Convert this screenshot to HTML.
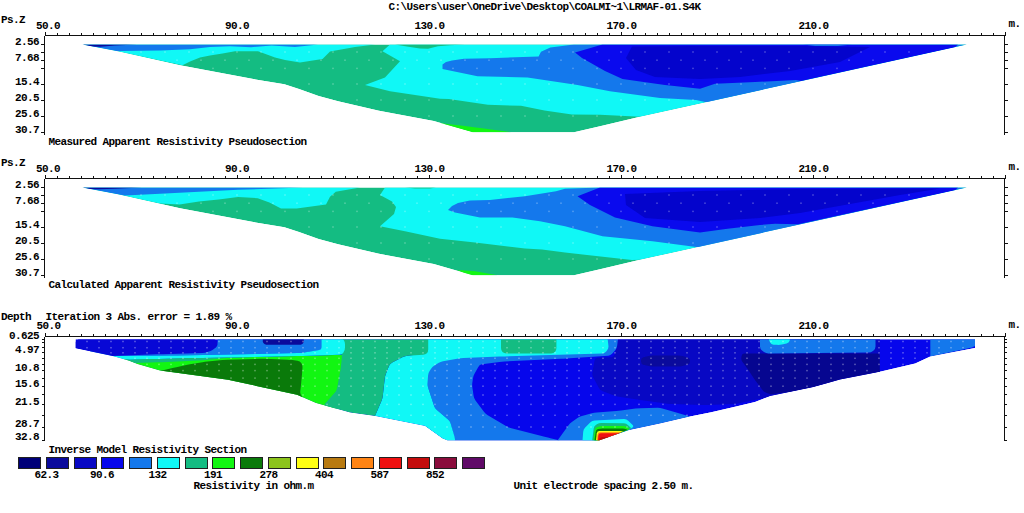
<!DOCTYPE html>
<html><head><meta charset="utf-8"><style>
html,body{margin:0;padding:0;background:#fff;overflow:hidden;}
svg{display:block;}
text{font-family:"Liberation Mono",monospace;font-weight:bold;font-size:11px;letter-spacing:-0.6px;fill:#000;}
</style></head><body>
<svg width="1024" height="513" viewBox="0 0 1024 513">
<rect width="1024" height="513" fill="#fff"/>
<g shape-rendering="geometricPrecision">
<clipPath id="c1"><polygon points="82.00,44.50 117.50,51.25 180.00,65.30 260.00,80.25 284.40,84.20 299.00,89.00 318.60,95.90 338.10,101.25 379.00,110.80 433.75,121.00 472.80,132.30 574.00,132.30 600.00,126.30 640.00,116.80 967.50,44.50"/></clipPath><clipPath id="c2"><polygon points="82.00,187.50 117.50,194.25 180.00,208.30 260.00,223.25 284.40,227.20 299.00,232.00 318.60,238.90 338.10,244.25 379.00,253.80 433.75,264.00 472.80,275.30 574.00,275.30 600.00,269.30 640.00,259.80 967.50,187.50"/></clipPath>
<g clip-path="url(#c1)">
<polygon points="82.00,44.50 117.50,51.25 180.00,65.30 260.00,80.25 284.40,84.20 299.00,89.00 318.60,95.90 338.10,101.25 379.00,110.80 433.75,121.00 472.80,132.30 574.00,132.30 600.00,126.30 640.00,116.80 967.50,44.50" fill="#14bc82"/>
<polygon points="82.00,44.50 375.00,44.50 355.00,47.00 330.00,51.40 322.50,58.90 316.00,60.00 300.00,62.50 285.00,60.00 275.00,57.50 258.00,51.25 235.00,51.25 222.50,53.50 210.00,55.50 200.00,57.50 190.00,61.50 182.50,65.20 117.50,51.25" fill="#10f8f6"/>
<polygon points="390.00,44.50 382.50,51.25 400.00,61.25 385.00,77.50 365.00,85.00 390.00,91.25 440.00,98.75 448.80,99.00 487.90,104.80 521.00,105.80 544.50,110.60 571.90,114.60 600.00,114.80 640.00,116.80 967.50,44.50" fill="#10f8f6"/>
<polygon points="395.00,44.50 410.00,47.00 420.00,48.60 428.00,48.70 438.00,46.20 450.00,45.20 465.00,44.50" fill="#14bc82"/>
<polygon points="82.00,44.50 318.00,44.50 295.00,47.00 271.60,45.60 251.00,47.20 230.00,46.30 210.00,47.00 190.00,49.20 160.00,50.50 120.00,51.00 117.50,51.25" fill="#1478ec"/>
<polygon points="82.00,44.50 137.00,44.50 115.00,45.60 100.00,46.80 92.00,46.60" fill="#0a0a9c"/>
<polygon points="442.50,64.50 446.00,62.00 452.00,60.50 464.00,58.80 490.00,58.20 503.40,57.80 538.60,56.40 541.00,51.70 550.30,47.60 568.00,45.30 574.00,44.50 967.50,44.50 707.50,102.40 696.00,100.00 660.00,98.00 610.00,91.25 577.50,85.00 527.50,77.50 477.50,76.25 442.50,69.00" fill="#1478ec"/>
<polygon points="602.50,44.50 575.00,52.50 582.00,58.00 590.00,62.50 605.00,71.00 622.50,79.00 665.00,85.00 700.00,88.75 715.00,83.75 755.00,82.00 796.00,80.00 801.00,81.00 955.00,47.30 958.00,44.50" fill="#0a0aee"/>
<polygon points="632.00,46.50 700.00,46.00 800.00,46.00 870.00,47.00 840.00,62.00 790.00,71.00 740.00,77.00 700.00,79.00 655.00,77.00 636.00,70.00 626.00,58.00" fill="#0404cc"/>
<polygon points="803.00,44.50 852.00,44.50 838.00,45.90 815.00,45.90" fill="#1478ec"/>
<polygon points="435.00,122.60 458.60,125.30 482.00,128.20 511.30,132.30 472.00,132.30" fill="#12f612"/>
</g><g clip-path="url(#c2)">
<polygon points="82.00,187.50 117.50,194.25 180.00,208.30 260.00,223.25 284.40,227.20 299.00,232.00 318.60,238.90 338.10,244.25 379.00,253.80 433.75,264.00 472.80,275.30 574.00,275.30 600.00,269.30 640.00,259.80 967.50,187.50" fill="#14bc82"/>
<polygon points="82.00,187.50 360.00,187.50 335.80,191.80 330.00,196.70 326.00,204.50 296.70,208.40 281.00,208.40 269.40,202.50 257.70,198.20 238.00,197.00 218.60,199.60 199.00,201.60 179.50,204.50 160.00,203.60 117.50,194.25" fill="#10f8f6"/>
<polygon points="385.00,187.50 380.00,195.00 392.00,201.50 396.00,207.00 394.00,214.00 380.00,226.25 405.00,231.25 440.00,238.75 475.00,242.50 525.00,248.50 542.00,249.50 565.00,252.50 587.00,255.00 632.00,260.00 640.00,259.80 967.50,187.50" fill="#10f8f6"/>
<polygon points="405.00,187.50 415.00,188.60 430.00,188.60 436.00,187.50" fill="#14bc82"/>
<polygon points="82.00,187.50 303.00,187.50 238.00,189.80 199.00,191.80 160.00,193.70 125.00,195.50 117.50,194.25" fill="#1478ec"/>
<polygon points="82.00,187.50 142.00,187.50 115.00,188.80 98.00,189.30 90.00,189.00" fill="#0a0a9c"/>
<polygon points="448.00,210.00 452.00,206.00 458.00,203.00 470.00,200.60 490.00,200.00 525.00,196.25 556.00,191.25 565.00,188.75 600.00,187.50 967.50,187.50 700.00,247.50 652.50,241.25 602.50,236.25 565.00,226.25 540.00,221.25 512.50,217.50 480.00,217.50 455.00,212.50" fill="#1478ec"/>
<polygon points="600.00,187.50 577.50,196.25 590.00,205.00 615.00,217.50 652.50,226.25 700.00,232.50 727.50,228.75 760.00,225.00 775.00,223.75 798.00,224.20 955.00,190.30 958.00,187.50" fill="#0a0aee"/>
<polygon points="625.00,194.00 700.00,191.00 800.00,189.00 940.00,188.50 900.00,195.00 850.00,204.00 800.00,213.00 760.00,218.00 700.00,222.00 645.00,218.00 626.00,205.00" fill="#0404cc"/>
<polygon points="457.50,270.00 475.00,271.25 497.50,275.30 468.00,275.30" fill="#12f612"/>
</g>
<clipPath id="c3"><polygon points="75.50,339.20 975.00,339.20 975.00,348.00 930.30,356.50 915.20,363.40 881.00,371.60 840.00,379.40 812.80,387.20 789.40,391.90 770.00,396.00 755.00,402.00 735.00,406.70 711.25,412.20 690.00,416.50 660.00,423.40 628.40,430.30 599.00,440.60 447.50,440.60 442.50,438.50 425.00,426.00 375.00,416.00 350.00,412.60 316.10,403.00 297.00,394.80 228.00,379.75 160.00,370.40 137.50,364.00 128.75,360.40 112.50,356.00 75.50,348.30"/></clipPath>
<g clip-path="url(#c3)">
<polygon points="75.50,339.20 975.00,339.20 975.00,348.00 930.30,356.50 915.20,363.40 881.00,371.60 840.00,379.40 812.80,387.20 789.40,391.90 770.00,396.00 755.00,402.00 735.00,406.70 711.25,412.20 690.00,416.50 660.00,423.40 628.40,430.30 599.00,440.60 447.50,440.60 442.50,438.50 425.00,426.00 375.00,416.00 350.00,412.60 316.10,403.00 297.00,394.80 228.00,379.75 160.00,370.40 137.50,364.00 128.75,360.40 112.50,356.00 75.50,348.30" fill="#0606ec"/>
<path d="M597.50,357.87L611.50,357.13Q614.00,357.00 614.55,354.56L618.00,339.20Q618.00,339.20 618.00,339.20L880.00,339.20Q880.00,339.20 880.00,339.20L880.00,372.00Q880.00,372.00 880.00,372.00L764.00,398.00Q764.00,398.00 764.00,398.00L737.45,403.49Q735.00,404.00 732.50,404.08L707.50,404.92Q705.00,405.00 702.50,404.93L672.50,404.07Q670.00,404.00 667.52,403.67L642.48,400.33Q640.00,400.00 637.53,399.61L617.47,396.39Q615.00,396.00 612.68,395.07L602.32,390.93Q600.00,390.00 598.82,387.79L593.18,377.21Q592.00,375.00 592.43,372.54L594.57,360.46Q595.00,358.00 597.50,357.87Z" fill="#0808c4"/>
<path d="M643.41,357.33L647.59,356.17Q650.00,355.50 652.50,355.50L677.50,355.50Q680.00,355.50 682.43,356.11L687.57,357.39Q690.00,358.00 690.00,360.50L690.00,361.50Q690.00,364.00 687.57,364.61L682.43,365.89Q680.00,366.50 677.50,366.50L652.50,366.50Q650.00,366.50 647.59,365.83L643.41,364.67Q641.00,364.00 641.00,361.50L641.00,360.50Q641.00,358.00 643.41,357.33Z" fill="#0a0a9c"/>
<path d="M744.50,353.50L877.20,353.50Q879.70,353.50 879.70,356.00L879.70,371.80Q879.70,371.80 879.70,371.80L840.00,379.40Q840.00,379.40 840.00,379.40L812.80,387.20Q812.80,387.20 812.80,387.20L789.40,391.90Q789.40,391.90 789.40,391.90L770.60,394.20Q770.60,394.20 770.60,394.20L766.37,392.79Q764.00,392.00 762.50,390.00L756.50,382.00Q755.00,380.00 753.61,377.92L748.39,370.08Q747.00,368.00 745.50,366.00L742.50,362.00Q741.00,360.00 741.38,357.53L741.62,355.97Q742.00,353.50 744.50,353.50Z" fill="#060690"/>
<path d="M760.00,339.20L875.50,339.20Q875.50,339.20 875.50,339.20L875.50,346.50Q875.50,349.00 873.55,350.56L872.95,351.04Q871.00,352.60 868.50,352.62L768.50,353.48Q766.00,353.50 764.00,352.00L762.00,350.50Q760.00,349.00 760.00,346.50L760.00,339.20Q760.00,339.20 760.00,339.20Z" fill="#1478ec"/>
<path d="M768.75,339.20L790.00,339.20Q790.00,339.20 790.00,339.20L789.50,341.10Q789.00,343.00 786.55,343.52L781.95,344.48Q779.50,345.00 777.00,344.85L773.50,344.65Q771.00,344.50 770.02,342.20L768.75,339.20Q768.75,339.20 768.75,339.20Z" fill="#10f8f6"/>
<path d="M930.30,339.20L975.00,339.20Q975.00,339.20 975.00,339.20L975.00,346.00Q975.00,346.00 975.00,346.00L972.00,347.60Q972.00,347.60 972.00,347.60L930.30,356.50Q930.30,356.50 930.30,356.50L930.30,339.20Q930.30,339.20 930.30,339.20Z" fill="#1478ec"/>
<path d="M427.50,339.20L617.90,339.20Q617.90,339.20 617.90,339.20L617.17,345.81Q616.90,348.30 615.27,350.19L612.33,353.61Q610.70,355.50 608.21,355.66L566.09,358.44Q563.60,358.60 561.10,358.72L504.50,361.48Q502.00,361.60 499.52,361.94L481.98,364.36Q479.50,364.70 478.30,366.89L474.50,373.81Q473.30,376.00 472.94,378.47L472.36,382.53Q472.00,385.00 472.37,387.47L473.63,396.03Q474.00,398.50 475.50,400.50L484.10,412.00Q485.60,414.00 487.76,415.26L506.84,426.44Q509.00,427.70 511.42,428.31L545.58,436.89Q548.00,437.50 550.42,438.13L560.00,440.60Q560.00,440.60 560.00,440.60L455.00,440.60Q455.00,440.60 455.00,440.60L450.62,423.42Q450.00,421.00 448.08,419.40L436.92,410.10Q435.00,408.50 434.21,406.13L428.29,388.37Q427.50,386.00 427.50,383.50L427.50,339.20Q427.50,339.20 427.50,339.20Z" fill="#1478ec"/>
<path d="M427.50,339.20L607.70,339.20Q607.70,339.20 607.70,339.20L608.43,345.81Q608.70,348.30 607.13,350.25L606.17,351.45Q604.60,353.40 602.10,353.48L504.50,356.42Q502.00,356.50 499.50,356.60L463.50,358.10Q461.00,358.20 458.53,358.61L442.97,361.19Q440.50,361.60 438.39,362.94L434.41,365.46Q432.30,366.80 430.92,368.89L429.58,370.91Q428.20,373.00 428.07,375.50L427.63,383.50Q427.50,386.00 428.29,388.37L434.21,406.13Q435.00,408.50 436.92,410.10L448.08,419.40Q450.00,421.00 450.69,423.40L454.31,436.10Q455.00,438.50 455.00,439.55L455.00,440.60Q455.00,440.60 455.00,440.60L447.50,440.60Q447.50,440.60 447.50,440.60L442.50,438.50Q442.50,438.50 442.50,438.50L425.00,426.00Q425.00,426.00 425.00,426.00L375.00,416.00Q375.00,416.00 375.00,416.00L381.52,400.80Q382.50,398.50 382.78,396.02L384.72,378.48Q385.00,376.00 385.93,373.68L389.07,365.82Q390.00,363.50 392.24,362.38L402.76,357.12Q405.00,356.00 407.48,355.69L422.52,353.81Q425.00,353.50 425.43,351.04L427.50,339.20Q427.50,339.20 427.50,339.20Z" fill="#10f8f6"/>
<path d="M501.00,339.20L556.40,339.20Q556.40,339.20 556.40,339.20L556.40,348.00Q556.40,350.50 554.95,351.95L554.95,351.95Q553.50,353.40 551.00,353.40L506.50,353.40Q504.00,353.40 502.50,351.95L502.50,351.95Q501.00,350.50 501.00,348.00L501.00,339.20Q501.00,339.20 501.00,339.20Z" fill="#14bc82"/>
<path d="M114.49,358.41L130.00,359.75Q130.00,359.75 130.00,359.75L197.50,358.06Q200.00,358.00 202.50,357.95L297.50,356.05Q300.00,356.00 302.50,355.93L343.50,354.82Q346.00,354.75 346.70,357.15L349.30,366.10Q350.00,368.50 349.72,370.98L348.28,383.52Q348.00,386.00 347.07,388.32L340.93,403.68Q340.00,406.00 337.86,407.29L332.14,410.71Q330.00,412.00 327.60,411.31L318.40,408.69Q316.00,408.00 313.74,406.93L299.26,400.07Q297.00,399.00 294.56,398.47L230.44,384.53Q228.00,384.00 225.52,383.67L162.48,375.33Q160.00,375.00 157.59,374.33L137.41,368.67Q135.00,368.00 132.64,367.17L120.36,362.83Q118.00,362.00 115.89,360.66L114.11,359.54Q112.00,358.20 114.49,358.41Z" fill="#12f612"/>
<path d="M341.00,339.20L428.20,339.20Q428.20,339.20 428.20,339.20L428.20,349.50Q428.20,352.00 426.85,353.25L426.85,353.25Q425.50,354.50 423.01,354.68L407.49,355.82Q405.00,356.00 402.76,357.12L392.24,362.38Q390.00,363.50 389.07,365.82L385.93,373.68Q385.00,376.00 384.72,378.48L382.78,396.02Q382.50,398.50 381.52,400.80L375.00,416.00Q375.00,416.00 375.00,416.00L350.00,412.60Q350.00,412.60 350.00,412.60L325.00,406.00Q325.00,406.00 325.00,406.00L324.30,404.40Q324.30,404.40 324.30,404.40L334.93,392.56Q336.60,390.70 337.06,388.24L340.24,371.26Q340.70,368.80 340.95,366.31L341.75,358.49Q342.00,356.00 341.50,354.20L341.50,354.20Q341.00,352.40 341.69,350.00L342.71,346.40Q343.40,344.00 342.28,341.76L341.00,339.20Q341.00,339.20 341.00,339.20Z" fill="#14bc82"/>
<path d="M90.00,351.00L215.20,344.14Q217.70,344.00 217.70,341.60L217.70,339.20Q217.70,339.20 217.70,339.20L323.00,339.20Q323.00,339.20 323.00,339.20L323.00,347.25Q323.00,349.75 320.52,350.10L302.48,352.65Q300.00,353.00 297.50,353.05L177.50,355.45Q175.00,355.50 172.50,355.52L127.50,355.98Q125.00,356.00 122.50,356.00L102.50,356.00Q100.00,356.00 97.55,355.51L92.45,354.49Q90.00,354.00 90.00,352.50L90.00,351.00Q90.00,351.00 90.00,351.00Z" fill="#1478ec"/>
<path d="M321.60,339.20L343.00,339.20Q343.00,339.20 343.00,339.20L344.00,340.60Q345.00,342.00 345.00,344.50L345.00,347.50Q345.00,350.00 343.67,352.11L343.33,352.64Q342.00,354.75 339.50,354.82L302.50,355.93Q300.00,356.00 297.50,356.05L202.50,357.95Q200.00,358.00 197.50,358.06L130.00,359.75Q130.00,359.75 130.00,359.75L114.49,358.41Q112.00,358.20 109.54,357.75L102.46,356.45Q100.00,356.00 102.50,356.00L122.50,356.00Q125.00,356.00 127.50,355.98L172.50,355.52Q175.00,355.50 177.50,355.45L297.50,353.05Q300.00,353.00 302.47,352.63L319.13,350.12Q321.60,349.75 321.60,347.25L321.60,339.20Q321.60,339.20 321.60,339.20Z" fill="#10f8f6"/>
<path d="M122.00,359.40L130.00,359.75Q130.00,359.75 130.00,359.75L197.50,358.06Q200.00,358.00 202.50,357.96L232.50,357.44Q235.00,357.40 232.51,357.61L202.49,360.19Q200.00,360.40 197.50,360.52L162.50,362.13Q160.00,362.25 157.50,362.32L135.00,363.00Q135.00,363.00 135.00,363.00L122.00,359.40Q122.00,359.40 122.00,359.40Z" fill="#14bc82"/>
<path d="M160.00,371.00L172.57,368.07Q175.00,367.50 177.44,366.96L185.06,365.29Q187.50,364.75 189.97,364.33L202.53,362.22Q205.00,361.80 207.49,361.55L222.51,360.00Q225.00,359.75 227.50,359.68L260.00,358.82Q262.50,358.75 265.00,358.85L287.50,359.70Q290.00,359.80 292.48,360.10L297.52,360.70Q300.00,361.00 301.25,363.00L301.25,363.00Q302.50,365.00 302.50,366.75L302.50,366.75Q302.50,368.50 302.28,370.99L301.22,382.71Q301.00,385.20 300.70,387.68L300.30,391.02Q300.00,393.50 301.39,395.58L303.00,398.00Q303.00,398.00 303.00,398.00L299.47,398.59Q297.00,399.00 294.56,398.47L230.44,384.53Q228.00,384.00 225.53,383.65L160.47,374.35Q158.00,374.00 159.00,372.50L160.00,371.00Q160.00,371.00 160.00,371.00Z" fill="#0a7a0a"/>
<path d="M75.50,342.00L78.50,339.20Q78.50,339.20 78.50,339.20L214.50,339.20Q214.50,339.20 214.50,339.20L216.10,340.60Q217.70,342.00 217.60,344.00L217.60,344.00Q217.50,346.00 215.63,347.66L214.87,348.34Q213.00,350.00 210.66,350.88L207.34,352.12Q205.00,353.00 202.50,353.07L162.50,354.13Q160.00,354.20 157.50,354.29L112.50,356.00Q112.50,356.00 112.50,356.00L75.50,348.30Q75.50,348.30 75.50,348.30L75.50,342.00Q75.50,342.00 75.50,342.00Z" fill="#0808d6"/>
<path d="M262.80,339.30L303.80,339.30Q303.80,339.30 303.80,339.30L303.80,341.15Q303.80,343.00 302.40,343.88L302.40,343.88Q301.00,344.75 298.50,344.75L268.50,344.75Q266.00,344.75 264.40,343.88L264.40,343.88Q262.80,343.00 262.80,341.15L262.80,339.30Q262.80,339.30 262.80,339.30Z" fill="#0a0a9c"/>
<path d="M557.50,440.60L568.35,425.43Q569.80,423.40 571.85,421.96L577.45,418.04Q579.50,416.60 581.92,415.96L591.78,413.34Q594.20,412.70 596.69,412.50L616.11,410.90Q618.60,410.70 621.08,410.39L635.52,408.61Q638.00,408.30 640.50,408.24L657.50,407.86Q660.00,407.80 662.40,408.50L690.00,416.50Q690.00,416.50 690.00,416.50L660.00,423.40Q660.00,423.40 660.00,423.40L628.40,430.30Q628.40,430.30 628.40,430.30L599.00,440.60Q599.00,440.60 599.00,440.60L557.50,440.60Q557.50,440.60 557.50,440.60Z" fill="#1478ec"/>
<path d="M582.50,440.60L583.20,431.79Q583.40,429.30 585.17,427.53L590.43,422.27Q592.20,420.50 594.70,420.39L623.90,419.11Q626.40,419.00 628.21,420.72L632.39,424.68Q634.20,426.40 632.13,427.79L628.40,430.30Q628.40,430.30 628.40,430.30L599.00,440.60Q599.00,440.60 599.00,440.60L582.50,440.60Q582.50,440.60 582.50,440.60Z" fill="#10f8f6"/>
<path d="M592.20,440.60L593.69,428.48Q594.00,426.00 596.14,424.71L596.86,424.29Q599.00,423.00 601.50,423.04L623.90,423.36Q626.40,423.40 628.17,425.17L631.30,428.30Q631.30,428.30 631.30,428.30L628.40,430.30Q628.40,430.30 628.40,430.30L599.00,440.60Q599.00,440.60 599.00,440.60L592.20,440.60Q592.20,440.60 592.20,440.60Z" fill="#14bc82"/>
<path d="M593.50,440.60L594.70,430.48Q595.00,428.00 597.32,427.07L597.68,426.93Q600.00,426.00 602.50,426.00L623.50,426.00Q626.00,426.00 627.75,427.50L629.50,429.00Q629.50,429.00 629.50,429.00L599.00,440.60Q599.00,440.60 599.00,440.60L593.50,440.60Q593.50,440.60 593.50,440.60Z" fill="#12f612"/>
<path d="M594.50,440.60L595.67,431.98Q596.00,429.50 598.00,429.00L598.00,429.00Q600.00,428.50 602.50,428.50L622.50,428.50Q625.00,428.50 626.25,429.25L627.50,430.00Q627.50,430.00 627.50,430.00L599.00,440.60Q599.00,440.60 599.00,440.60L594.50,440.60Q594.50,440.60 594.50,440.60Z" fill="#0a7a0a"/>
<path d="M596.00,440.60L596.74,433.49Q597.00,431.00 599.50,431.00L623.50,431.00Q623.50,431.00 623.50,431.00L599.00,440.60Q599.00,440.60 599.00,440.60L596.00,440.60Q596.00,440.60 596.00,440.60Z" fill="#ffff14"/>
<path d="M597.00,440.60L597.56,434.69Q597.80,432.20 600.30,432.20L622.00,432.20Q622.00,432.20 622.00,432.20L599.00,440.60Q599.00,440.60 599.00,440.60L597.00,440.60Q597.00,440.60 597.00,440.60Z" fill="#ff8414"/>
<path d="M598.00,440.60L598.33,435.79Q598.50,433.30 601.00,433.30L620.50,433.30Q620.50,433.30 620.50,433.30L599.00,440.60Q599.00,440.60 599.00,440.60L598.00,440.60Q598.00,440.60 598.00,440.60Z" fill="#f01010"/>
<path d="M599.00,440.60L599.50,438.80Q600.00,437.00 602.50,437.00L610.00,437.00Q610.00,437.00 610.00,437.00L599.00,440.60Q599.00,440.60 599.00,440.60L599.00,440.60Q599.00,440.60 599.00,440.60Z" fill="#c40c0c"/>
</g>
<g fill="#fff" fill-opacity="0.27"><rect x="86" y="340.75" width="2" height="1.5"/><rect x="98" y="340.75" width="2" height="1.5"/><rect x="110" y="340.75" width="2" height="1.5"/><rect x="122" y="340.75" width="2" height="1.5"/><rect x="134" y="340.75" width="2" height="1.5"/><rect x="146" y="340.75" width="2" height="1.5"/><rect x="158" y="340.75" width="2" height="1.5"/><rect x="170" y="340.75" width="2" height="1.5"/><rect x="182" y="340.75" width="2" height="1.5"/><rect x="194" y="340.75" width="2" height="1.5"/><rect x="206" y="340.75" width="2" height="1.5"/><rect x="218" y="340.75" width="2" height="1.5"/><rect x="230" y="340.75" width="2" height="1.5"/><rect x="242" y="340.75" width="2" height="1.5"/><rect x="254" y="340.75" width="2" height="1.5"/><rect x="266" y="340.75" width="2" height="1.5"/><rect x="278" y="340.75" width="2" height="1.5"/><rect x="290" y="340.75" width="2" height="1.5"/><rect x="302" y="340.75" width="2" height="1.5"/><rect x="314" y="340.75" width="2" height="1.5"/><rect x="326" y="340.75" width="2" height="1.5"/><rect x="338" y="340.75" width="2" height="1.5"/><rect x="350" y="340.75" width="2" height="1.5"/><rect x="362" y="340.75" width="2" height="1.5"/><rect x="374" y="340.75" width="2" height="1.5"/><rect x="386" y="340.75" width="2" height="1.5"/><rect x="398" y="340.75" width="2" height="1.5"/><rect x="410" y="340.75" width="2" height="1.5"/><rect x="422" y="340.75" width="2" height="1.5"/><rect x="434" y="340.75" width="2" height="1.5"/><rect x="446" y="340.75" width="2" height="1.5"/><rect x="458" y="340.75" width="2" height="1.5"/><rect x="470" y="340.75" width="2" height="1.5"/><rect x="482" y="340.75" width="2" height="1.5"/><rect x="494" y="340.75" width="2" height="1.5"/><rect x="506" y="340.75" width="2" height="1.5"/><rect x="518" y="340.75" width="2" height="1.5"/><rect x="530" y="340.75" width="2" height="1.5"/><rect x="542" y="340.75" width="2" height="1.5"/><rect x="554" y="340.75" width="2" height="1.5"/><rect x="566" y="340.75" width="2" height="1.5"/><rect x="578" y="340.75" width="2" height="1.5"/><rect x="590" y="340.75" width="2" height="1.5"/><rect x="602" y="340.75" width="2" height="1.5"/><rect x="614" y="340.75" width="2" height="1.5"/><rect x="626" y="340.75" width="2" height="1.5"/><rect x="638" y="340.75" width="2" height="1.5"/><rect x="650" y="340.75" width="2" height="1.5"/><rect x="662" y="340.75" width="2" height="1.5"/><rect x="674" y="340.75" width="2" height="1.5"/><rect x="686" y="340.75" width="2" height="1.5"/><rect x="698" y="340.75" width="2" height="1.5"/><rect x="710" y="340.75" width="2" height="1.5"/><rect x="722" y="340.75" width="2" height="1.5"/><rect x="734" y="340.75" width="2" height="1.5"/><rect x="746" y="340.75" width="2" height="1.5"/><rect x="758" y="340.75" width="2" height="1.5"/><rect x="770" y="340.75" width="2" height="1.5"/><rect x="782" y="340.75" width="2" height="1.5"/><rect x="794" y="340.75" width="2" height="1.5"/><rect x="806" y="340.75" width="2" height="1.5"/><rect x="818" y="340.75" width="2" height="1.5"/><rect x="830" y="340.75" width="2" height="1.5"/><rect x="842" y="340.75" width="2" height="1.5"/><rect x="854" y="340.75" width="2" height="1.5"/><rect x="866" y="340.75" width="2" height="1.5"/><rect x="878" y="340.75" width="2" height="1.5"/><rect x="890" y="340.75" width="2" height="1.5"/><rect x="902" y="340.75" width="2" height="1.5"/><rect x="914" y="340.75" width="2" height="1.5"/><rect x="926" y="340.75" width="2" height="1.5"/><rect x="938" y="340.75" width="2" height="1.5"/><rect x="950" y="340.75" width="2" height="1.5"/><rect x="962" y="340.75" width="2" height="1.5"/><rect x="86" y="346.95" width="2" height="1.5"/><rect x="98" y="346.95" width="2" height="1.5"/><rect x="110" y="346.95" width="2" height="1.5"/><rect x="122" y="346.95" width="2" height="1.5"/><rect x="134" y="346.95" width="2" height="1.5"/><rect x="146" y="346.95" width="2" height="1.5"/><rect x="158" y="346.95" width="2" height="1.5"/><rect x="170" y="346.95" width="2" height="1.5"/><rect x="182" y="346.95" width="2" height="1.5"/><rect x="194" y="346.95" width="2" height="1.5"/><rect x="206" y="346.95" width="2" height="1.5"/><rect x="218" y="346.95" width="2" height="1.5"/><rect x="230" y="346.95" width="2" height="1.5"/><rect x="242" y="346.95" width="2" height="1.5"/><rect x="254" y="346.95" width="2" height="1.5"/><rect x="266" y="346.95" width="2" height="1.5"/><rect x="278" y="346.95" width="2" height="1.5"/><rect x="290" y="346.95" width="2" height="1.5"/><rect x="302" y="346.95" width="2" height="1.5"/><rect x="314" y="346.95" width="2" height="1.5"/><rect x="326" y="346.95" width="2" height="1.5"/><rect x="338" y="346.95" width="2" height="1.5"/><rect x="350" y="346.95" width="2" height="1.5"/><rect x="362" y="346.95" width="2" height="1.5"/><rect x="374" y="346.95" width="2" height="1.5"/><rect x="386" y="346.95" width="2" height="1.5"/><rect x="398" y="346.95" width="2" height="1.5"/><rect x="410" y="346.95" width="2" height="1.5"/><rect x="422" y="346.95" width="2" height="1.5"/><rect x="434" y="346.95" width="2" height="1.5"/><rect x="446" y="346.95" width="2" height="1.5"/><rect x="458" y="346.95" width="2" height="1.5"/><rect x="470" y="346.95" width="2" height="1.5"/><rect x="482" y="346.95" width="2" height="1.5"/><rect x="494" y="346.95" width="2" height="1.5"/><rect x="506" y="346.95" width="2" height="1.5"/><rect x="518" y="346.95" width="2" height="1.5"/><rect x="530" y="346.95" width="2" height="1.5"/><rect x="542" y="346.95" width="2" height="1.5"/><rect x="554" y="346.95" width="2" height="1.5"/><rect x="566" y="346.95" width="2" height="1.5"/><rect x="578" y="346.95" width="2" height="1.5"/><rect x="590" y="346.95" width="2" height="1.5"/><rect x="602" y="346.95" width="2" height="1.5"/><rect x="614" y="346.95" width="2" height="1.5"/><rect x="626" y="346.95" width="2" height="1.5"/><rect x="638" y="346.95" width="2" height="1.5"/><rect x="650" y="346.95" width="2" height="1.5"/><rect x="662" y="346.95" width="2" height="1.5"/><rect x="674" y="346.95" width="2" height="1.5"/><rect x="686" y="346.95" width="2" height="1.5"/><rect x="698" y="346.95" width="2" height="1.5"/><rect x="710" y="346.95" width="2" height="1.5"/><rect x="722" y="346.95" width="2" height="1.5"/><rect x="734" y="346.95" width="2" height="1.5"/><rect x="746" y="346.95" width="2" height="1.5"/><rect x="758" y="346.95" width="2" height="1.5"/><rect x="770" y="346.95" width="2" height="1.5"/><rect x="782" y="346.95" width="2" height="1.5"/><rect x="794" y="346.95" width="2" height="1.5"/><rect x="806" y="346.95" width="2" height="1.5"/><rect x="818" y="346.95" width="2" height="1.5"/><rect x="830" y="346.95" width="2" height="1.5"/><rect x="842" y="346.95" width="2" height="1.5"/><rect x="854" y="346.95" width="2" height="1.5"/><rect x="866" y="346.95" width="2" height="1.5"/><rect x="878" y="346.95" width="2" height="1.5"/><rect x="890" y="346.95" width="2" height="1.5"/><rect x="902" y="346.95" width="2" height="1.5"/><rect x="914" y="346.95" width="2" height="1.5"/><rect x="926" y="346.95" width="2" height="1.5"/><rect x="938" y="346.95" width="2" height="1.5"/><rect x="950" y="346.95" width="2" height="1.5"/><rect x="962" y="346.95" width="2" height="1.5"/><rect x="110" y="352.05" width="2" height="1.5"/><rect x="122" y="352.05" width="2" height="1.5"/><rect x="134" y="352.05" width="2" height="1.5"/><rect x="146" y="352.05" width="2" height="1.5"/><rect x="158" y="352.05" width="2" height="1.5"/><rect x="170" y="352.05" width="2" height="1.5"/><rect x="182" y="352.05" width="2" height="1.5"/><rect x="194" y="352.05" width="2" height="1.5"/><rect x="206" y="352.05" width="2" height="1.5"/><rect x="218" y="352.05" width="2" height="1.5"/><rect x="230" y="352.05" width="2" height="1.5"/><rect x="242" y="352.05" width="2" height="1.5"/><rect x="254" y="352.05" width="2" height="1.5"/><rect x="266" y="352.05" width="2" height="1.5"/><rect x="278" y="352.05" width="2" height="1.5"/><rect x="290" y="352.05" width="2" height="1.5"/><rect x="302" y="352.05" width="2" height="1.5"/><rect x="314" y="352.05" width="2" height="1.5"/><rect x="326" y="352.05" width="2" height="1.5"/><rect x="338" y="352.05" width="2" height="1.5"/><rect x="350" y="352.05" width="2" height="1.5"/><rect x="362" y="352.05" width="2" height="1.5"/><rect x="374" y="352.05" width="2" height="1.5"/><rect x="386" y="352.05" width="2" height="1.5"/><rect x="398" y="352.05" width="2" height="1.5"/><rect x="410" y="352.05" width="2" height="1.5"/><rect x="422" y="352.05" width="2" height="1.5"/><rect x="434" y="352.05" width="2" height="1.5"/><rect x="446" y="352.05" width="2" height="1.5"/><rect x="458" y="352.05" width="2" height="1.5"/><rect x="470" y="352.05" width="2" height="1.5"/><rect x="482" y="352.05" width="2" height="1.5"/><rect x="494" y="352.05" width="2" height="1.5"/><rect x="506" y="352.05" width="2" height="1.5"/><rect x="518" y="352.05" width="2" height="1.5"/><rect x="530" y="352.05" width="2" height="1.5"/><rect x="542" y="352.05" width="2" height="1.5"/><rect x="554" y="352.05" width="2" height="1.5"/><rect x="566" y="352.05" width="2" height="1.5"/><rect x="578" y="352.05" width="2" height="1.5"/><rect x="590" y="352.05" width="2" height="1.5"/><rect x="602" y="352.05" width="2" height="1.5"/><rect x="614" y="352.05" width="2" height="1.5"/><rect x="626" y="352.05" width="2" height="1.5"/><rect x="638" y="352.05" width="2" height="1.5"/><rect x="650" y="352.05" width="2" height="1.5"/><rect x="662" y="352.05" width="2" height="1.5"/><rect x="674" y="352.05" width="2" height="1.5"/><rect x="686" y="352.05" width="2" height="1.5"/><rect x="698" y="352.05" width="2" height="1.5"/><rect x="710" y="352.05" width="2" height="1.5"/><rect x="722" y="352.05" width="2" height="1.5"/><rect x="734" y="352.05" width="2" height="1.5"/><rect x="746" y="352.05" width="2" height="1.5"/><rect x="758" y="352.05" width="2" height="1.5"/><rect x="770" y="352.05" width="2" height="1.5"/><rect x="782" y="352.05" width="2" height="1.5"/><rect x="794" y="352.05" width="2" height="1.5"/><rect x="806" y="352.05" width="2" height="1.5"/><rect x="818" y="352.05" width="2" height="1.5"/><rect x="830" y="352.05" width="2" height="1.5"/><rect x="842" y="352.05" width="2" height="1.5"/><rect x="854" y="352.05" width="2" height="1.5"/><rect x="866" y="352.05" width="2" height="1.5"/><rect x="878" y="352.05" width="2" height="1.5"/><rect x="890" y="352.05" width="2" height="1.5"/><rect x="902" y="352.05" width="2" height="1.5"/><rect x="914" y="352.05" width="2" height="1.5"/><rect x="926" y="352.05" width="2" height="1.5"/><rect x="938" y="352.05" width="2" height="1.5"/><rect x="134" y="357.55" width="2" height="1.5"/><rect x="146" y="357.55" width="2" height="1.5"/><rect x="158" y="357.55" width="2" height="1.5"/><rect x="170" y="357.55" width="2" height="1.5"/><rect x="182" y="357.55" width="2" height="1.5"/><rect x="194" y="357.55" width="2" height="1.5"/><rect x="206" y="357.55" width="2" height="1.5"/><rect x="218" y="357.55" width="2" height="1.5"/><rect x="230" y="357.55" width="2" height="1.5"/><rect x="242" y="357.55" width="2" height="1.5"/><rect x="254" y="357.55" width="2" height="1.5"/><rect x="266" y="357.55" width="2" height="1.5"/><rect x="278" y="357.55" width="2" height="1.5"/><rect x="290" y="357.55" width="2" height="1.5"/><rect x="302" y="357.55" width="2" height="1.5"/><rect x="314" y="357.55" width="2" height="1.5"/><rect x="326" y="357.55" width="2" height="1.5"/><rect x="338" y="357.55" width="2" height="1.5"/><rect x="350" y="357.55" width="2" height="1.5"/><rect x="362" y="357.55" width="2" height="1.5"/><rect x="374" y="357.55" width="2" height="1.5"/><rect x="386" y="357.55" width="2" height="1.5"/><rect x="398" y="357.55" width="2" height="1.5"/><rect x="410" y="357.55" width="2" height="1.5"/><rect x="422" y="357.55" width="2" height="1.5"/><rect x="434" y="357.55" width="2" height="1.5"/><rect x="446" y="357.55" width="2" height="1.5"/><rect x="458" y="357.55" width="2" height="1.5"/><rect x="470" y="357.55" width="2" height="1.5"/><rect x="482" y="357.55" width="2" height="1.5"/><rect x="494" y="357.55" width="2" height="1.5"/><rect x="506" y="357.55" width="2" height="1.5"/><rect x="518" y="357.55" width="2" height="1.5"/><rect x="530" y="357.55" width="2" height="1.5"/><rect x="542" y="357.55" width="2" height="1.5"/><rect x="554" y="357.55" width="2" height="1.5"/><rect x="566" y="357.55" width="2" height="1.5"/><rect x="578" y="357.55" width="2" height="1.5"/><rect x="590" y="357.55" width="2" height="1.5"/><rect x="602" y="357.55" width="2" height="1.5"/><rect x="614" y="357.55" width="2" height="1.5"/><rect x="626" y="357.55" width="2" height="1.5"/><rect x="638" y="357.55" width="2" height="1.5"/><rect x="650" y="357.55" width="2" height="1.5"/><rect x="662" y="357.55" width="2" height="1.5"/><rect x="674" y="357.55" width="2" height="1.5"/><rect x="686" y="357.55" width="2" height="1.5"/><rect x="698" y="357.55" width="2" height="1.5"/><rect x="710" y="357.55" width="2" height="1.5"/><rect x="722" y="357.55" width="2" height="1.5"/><rect x="734" y="357.55" width="2" height="1.5"/><rect x="746" y="357.55" width="2" height="1.5"/><rect x="758" y="357.55" width="2" height="1.5"/><rect x="770" y="357.55" width="2" height="1.5"/><rect x="782" y="357.55" width="2" height="1.5"/><rect x="794" y="357.55" width="2" height="1.5"/><rect x="806" y="357.55" width="2" height="1.5"/><rect x="818" y="357.55" width="2" height="1.5"/><rect x="830" y="357.55" width="2" height="1.5"/><rect x="842" y="357.55" width="2" height="1.5"/><rect x="854" y="357.55" width="2" height="1.5"/><rect x="866" y="357.55" width="2" height="1.5"/><rect x="878" y="357.55" width="2" height="1.5"/><rect x="890" y="357.55" width="2" height="1.5"/><rect x="902" y="357.55" width="2" height="1.5"/><rect x="914" y="357.55" width="2" height="1.5"/><rect x="146" y="363.65" width="2" height="1.5"/><rect x="158" y="363.65" width="2" height="1.5"/><rect x="170" y="363.65" width="2" height="1.5"/><rect x="182" y="363.65" width="2" height="1.5"/><rect x="194" y="363.65" width="2" height="1.5"/><rect x="206" y="363.65" width="2" height="1.5"/><rect x="218" y="363.65" width="2" height="1.5"/><rect x="230" y="363.65" width="2" height="1.5"/><rect x="242" y="363.65" width="2" height="1.5"/><rect x="254" y="363.65" width="2" height="1.5"/><rect x="266" y="363.65" width="2" height="1.5"/><rect x="278" y="363.65" width="2" height="1.5"/><rect x="290" y="363.65" width="2" height="1.5"/><rect x="302" y="363.65" width="2" height="1.5"/><rect x="314" y="363.65" width="2" height="1.5"/><rect x="326" y="363.65" width="2" height="1.5"/><rect x="338" y="363.65" width="2" height="1.5"/><rect x="350" y="363.65" width="2" height="1.5"/><rect x="362" y="363.65" width="2" height="1.5"/><rect x="374" y="363.65" width="2" height="1.5"/><rect x="386" y="363.65" width="2" height="1.5"/><rect x="398" y="363.65" width="2" height="1.5"/><rect x="410" y="363.65" width="2" height="1.5"/><rect x="422" y="363.65" width="2" height="1.5"/><rect x="434" y="363.65" width="2" height="1.5"/><rect x="446" y="363.65" width="2" height="1.5"/><rect x="458" y="363.65" width="2" height="1.5"/><rect x="470" y="363.65" width="2" height="1.5"/><rect x="482" y="363.65" width="2" height="1.5"/><rect x="494" y="363.65" width="2" height="1.5"/><rect x="506" y="363.65" width="2" height="1.5"/><rect x="518" y="363.65" width="2" height="1.5"/><rect x="530" y="363.65" width="2" height="1.5"/><rect x="542" y="363.65" width="2" height="1.5"/><rect x="554" y="363.65" width="2" height="1.5"/><rect x="566" y="363.65" width="2" height="1.5"/><rect x="578" y="363.65" width="2" height="1.5"/><rect x="590" y="363.65" width="2" height="1.5"/><rect x="602" y="363.65" width="2" height="1.5"/><rect x="614" y="363.65" width="2" height="1.5"/><rect x="626" y="363.65" width="2" height="1.5"/><rect x="638" y="363.65" width="2" height="1.5"/><rect x="650" y="363.65" width="2" height="1.5"/><rect x="662" y="363.65" width="2" height="1.5"/><rect x="674" y="363.65" width="2" height="1.5"/><rect x="686" y="363.65" width="2" height="1.5"/><rect x="698" y="363.65" width="2" height="1.5"/><rect x="710" y="363.65" width="2" height="1.5"/><rect x="722" y="363.65" width="2" height="1.5"/><rect x="734" y="363.65" width="2" height="1.5"/><rect x="746" y="363.65" width="2" height="1.5"/><rect x="758" y="363.65" width="2" height="1.5"/><rect x="770" y="363.65" width="2" height="1.5"/><rect x="782" y="363.65" width="2" height="1.5"/><rect x="794" y="363.65" width="2" height="1.5"/><rect x="806" y="363.65" width="2" height="1.5"/><rect x="818" y="363.65" width="2" height="1.5"/><rect x="830" y="363.65" width="2" height="1.5"/><rect x="842" y="363.65" width="2" height="1.5"/><rect x="854" y="363.65" width="2" height="1.5"/><rect x="866" y="363.65" width="2" height="1.5"/><rect x="878" y="363.65" width="2" height="1.5"/><rect x="890" y="363.65" width="2" height="1.5"/><rect x="902" y="363.65" width="2" height="1.5"/><rect x="170" y="369.85" width="2" height="1.5"/><rect x="182" y="369.85" width="2" height="1.5"/><rect x="194" y="369.85" width="2" height="1.5"/><rect x="206" y="369.85" width="2" height="1.5"/><rect x="218" y="369.85" width="2" height="1.5"/><rect x="230" y="369.85" width="2" height="1.5"/><rect x="242" y="369.85" width="2" height="1.5"/><rect x="254" y="369.85" width="2" height="1.5"/><rect x="266" y="369.85" width="2" height="1.5"/><rect x="278" y="369.85" width="2" height="1.5"/><rect x="290" y="369.85" width="2" height="1.5"/><rect x="302" y="369.85" width="2" height="1.5"/><rect x="314" y="369.85" width="2" height="1.5"/><rect x="326" y="369.85" width="2" height="1.5"/><rect x="338" y="369.85" width="2" height="1.5"/><rect x="350" y="369.85" width="2" height="1.5"/><rect x="362" y="369.85" width="2" height="1.5"/><rect x="374" y="369.85" width="2" height="1.5"/><rect x="386" y="369.85" width="2" height="1.5"/><rect x="398" y="369.85" width="2" height="1.5"/><rect x="410" y="369.85" width="2" height="1.5"/><rect x="422" y="369.85" width="2" height="1.5"/><rect x="434" y="369.85" width="2" height="1.5"/><rect x="446" y="369.85" width="2" height="1.5"/><rect x="458" y="369.85" width="2" height="1.5"/><rect x="470" y="369.85" width="2" height="1.5"/><rect x="482" y="369.85" width="2" height="1.5"/><rect x="494" y="369.85" width="2" height="1.5"/><rect x="506" y="369.85" width="2" height="1.5"/><rect x="518" y="369.85" width="2" height="1.5"/><rect x="530" y="369.85" width="2" height="1.5"/><rect x="542" y="369.85" width="2" height="1.5"/><rect x="554" y="369.85" width="2" height="1.5"/><rect x="566" y="369.85" width="2" height="1.5"/><rect x="578" y="369.85" width="2" height="1.5"/><rect x="590" y="369.85" width="2" height="1.5"/><rect x="602" y="369.85" width="2" height="1.5"/><rect x="614" y="369.85" width="2" height="1.5"/><rect x="626" y="369.85" width="2" height="1.5"/><rect x="638" y="369.85" width="2" height="1.5"/><rect x="650" y="369.85" width="2" height="1.5"/><rect x="662" y="369.85" width="2" height="1.5"/><rect x="674" y="369.85" width="2" height="1.5"/><rect x="686" y="369.85" width="2" height="1.5"/><rect x="698" y="369.85" width="2" height="1.5"/><rect x="710" y="369.85" width="2" height="1.5"/><rect x="722" y="369.85" width="2" height="1.5"/><rect x="734" y="369.85" width="2" height="1.5"/><rect x="746" y="369.85" width="2" height="1.5"/><rect x="758" y="369.85" width="2" height="1.5"/><rect x="770" y="369.85" width="2" height="1.5"/><rect x="782" y="369.85" width="2" height="1.5"/><rect x="794" y="369.85" width="2" height="1.5"/><rect x="806" y="369.85" width="2" height="1.5"/><rect x="818" y="369.85" width="2" height="1.5"/><rect x="830" y="369.85" width="2" height="1.5"/><rect x="842" y="369.85" width="2" height="1.5"/><rect x="854" y="369.85" width="2" height="1.5"/><rect x="866" y="369.85" width="2" height="1.5"/><rect x="230" y="377.35" width="2" height="1.5"/><rect x="242" y="377.35" width="2" height="1.5"/><rect x="254" y="377.35" width="2" height="1.5"/><rect x="266" y="377.35" width="2" height="1.5"/><rect x="278" y="377.35" width="2" height="1.5"/><rect x="290" y="377.35" width="2" height="1.5"/><rect x="302" y="377.35" width="2" height="1.5"/><rect x="314" y="377.35" width="2" height="1.5"/><rect x="326" y="377.35" width="2" height="1.5"/><rect x="338" y="377.35" width="2" height="1.5"/><rect x="350" y="377.35" width="2" height="1.5"/><rect x="362" y="377.35" width="2" height="1.5"/><rect x="374" y="377.35" width="2" height="1.5"/><rect x="386" y="377.35" width="2" height="1.5"/><rect x="398" y="377.35" width="2" height="1.5"/><rect x="410" y="377.35" width="2" height="1.5"/><rect x="422" y="377.35" width="2" height="1.5"/><rect x="434" y="377.35" width="2" height="1.5"/><rect x="446" y="377.35" width="2" height="1.5"/><rect x="458" y="377.35" width="2" height="1.5"/><rect x="470" y="377.35" width="2" height="1.5"/><rect x="482" y="377.35" width="2" height="1.5"/><rect x="494" y="377.35" width="2" height="1.5"/><rect x="506" y="377.35" width="2" height="1.5"/><rect x="518" y="377.35" width="2" height="1.5"/><rect x="530" y="377.35" width="2" height="1.5"/><rect x="542" y="377.35" width="2" height="1.5"/><rect x="554" y="377.35" width="2" height="1.5"/><rect x="566" y="377.35" width="2" height="1.5"/><rect x="578" y="377.35" width="2" height="1.5"/><rect x="590" y="377.35" width="2" height="1.5"/><rect x="602" y="377.35" width="2" height="1.5"/><rect x="614" y="377.35" width="2" height="1.5"/><rect x="626" y="377.35" width="2" height="1.5"/><rect x="638" y="377.35" width="2" height="1.5"/><rect x="650" y="377.35" width="2" height="1.5"/><rect x="662" y="377.35" width="2" height="1.5"/><rect x="674" y="377.35" width="2" height="1.5"/><rect x="686" y="377.35" width="2" height="1.5"/><rect x="698" y="377.35" width="2" height="1.5"/><rect x="710" y="377.35" width="2" height="1.5"/><rect x="722" y="377.35" width="2" height="1.5"/><rect x="734" y="377.35" width="2" height="1.5"/><rect x="746" y="377.35" width="2" height="1.5"/><rect x="758" y="377.35" width="2" height="1.5"/><rect x="770" y="377.35" width="2" height="1.5"/><rect x="782" y="377.35" width="2" height="1.5"/><rect x="794" y="377.35" width="2" height="1.5"/><rect x="806" y="377.35" width="2" height="1.5"/><rect x="818" y="377.35" width="2" height="1.5"/><rect x="830" y="377.35" width="2" height="1.5"/><rect x="266" y="385.45" width="2" height="1.5"/><rect x="278" y="385.45" width="2" height="1.5"/><rect x="290" y="385.45" width="2" height="1.5"/><rect x="302" y="385.45" width="2" height="1.5"/><rect x="314" y="385.45" width="2" height="1.5"/><rect x="326" y="385.45" width="2" height="1.5"/><rect x="338" y="385.45" width="2" height="1.5"/><rect x="350" y="385.45" width="2" height="1.5"/><rect x="362" y="385.45" width="2" height="1.5"/><rect x="374" y="385.45" width="2" height="1.5"/><rect x="386" y="385.45" width="2" height="1.5"/><rect x="398" y="385.45" width="2" height="1.5"/><rect x="410" y="385.45" width="2" height="1.5"/><rect x="422" y="385.45" width="2" height="1.5"/><rect x="434" y="385.45" width="2" height="1.5"/><rect x="446" y="385.45" width="2" height="1.5"/><rect x="458" y="385.45" width="2" height="1.5"/><rect x="470" y="385.45" width="2" height="1.5"/><rect x="482" y="385.45" width="2" height="1.5"/><rect x="494" y="385.45" width="2" height="1.5"/><rect x="506" y="385.45" width="2" height="1.5"/><rect x="518" y="385.45" width="2" height="1.5"/><rect x="530" y="385.45" width="2" height="1.5"/><rect x="542" y="385.45" width="2" height="1.5"/><rect x="554" y="385.45" width="2" height="1.5"/><rect x="566" y="385.45" width="2" height="1.5"/><rect x="578" y="385.45" width="2" height="1.5"/><rect x="590" y="385.45" width="2" height="1.5"/><rect x="602" y="385.45" width="2" height="1.5"/><rect x="614" y="385.45" width="2" height="1.5"/><rect x="626" y="385.45" width="2" height="1.5"/><rect x="638" y="385.45" width="2" height="1.5"/><rect x="650" y="385.45" width="2" height="1.5"/><rect x="662" y="385.45" width="2" height="1.5"/><rect x="674" y="385.45" width="2" height="1.5"/><rect x="686" y="385.45" width="2" height="1.5"/><rect x="698" y="385.45" width="2" height="1.5"/><rect x="710" y="385.45" width="2" height="1.5"/><rect x="722" y="385.45" width="2" height="1.5"/><rect x="734" y="385.45" width="2" height="1.5"/><rect x="746" y="385.45" width="2" height="1.5"/><rect x="758" y="385.45" width="2" height="1.5"/><rect x="770" y="385.45" width="2" height="1.5"/><rect x="782" y="385.45" width="2" height="1.5"/><rect x="794" y="385.45" width="2" height="1.5"/><rect x="806" y="385.45" width="2" height="1.5"/><rect x="302" y="394.25" width="2" height="1.5"/><rect x="314" y="394.25" width="2" height="1.5"/><rect x="326" y="394.25" width="2" height="1.5"/><rect x="338" y="394.25" width="2" height="1.5"/><rect x="350" y="394.25" width="2" height="1.5"/><rect x="362" y="394.25" width="2" height="1.5"/><rect x="374" y="394.25" width="2" height="1.5"/><rect x="386" y="394.25" width="2" height="1.5"/><rect x="398" y="394.25" width="2" height="1.5"/><rect x="410" y="394.25" width="2" height="1.5"/><rect x="422" y="394.25" width="2" height="1.5"/><rect x="434" y="394.25" width="2" height="1.5"/><rect x="446" y="394.25" width="2" height="1.5"/><rect x="458" y="394.25" width="2" height="1.5"/><rect x="470" y="394.25" width="2" height="1.5"/><rect x="482" y="394.25" width="2" height="1.5"/><rect x="494" y="394.25" width="2" height="1.5"/><rect x="506" y="394.25" width="2" height="1.5"/><rect x="518" y="394.25" width="2" height="1.5"/><rect x="530" y="394.25" width="2" height="1.5"/><rect x="542" y="394.25" width="2" height="1.5"/><rect x="554" y="394.25" width="2" height="1.5"/><rect x="566" y="394.25" width="2" height="1.5"/><rect x="578" y="394.25" width="2" height="1.5"/><rect x="590" y="394.25" width="2" height="1.5"/><rect x="602" y="394.25" width="2" height="1.5"/><rect x="614" y="394.25" width="2" height="1.5"/><rect x="626" y="394.25" width="2" height="1.5"/><rect x="638" y="394.25" width="2" height="1.5"/><rect x="650" y="394.25" width="2" height="1.5"/><rect x="662" y="394.25" width="2" height="1.5"/><rect x="674" y="394.25" width="2" height="1.5"/><rect x="686" y="394.25" width="2" height="1.5"/><rect x="698" y="394.25" width="2" height="1.5"/><rect x="710" y="394.25" width="2" height="1.5"/><rect x="722" y="394.25" width="2" height="1.5"/><rect x="734" y="394.25" width="2" height="1.5"/><rect x="746" y="394.25" width="2" height="1.5"/><rect x="758" y="394.25" width="2" height="1.5"/><rect x="326" y="403.65" width="2" height="1.5"/><rect x="338" y="403.65" width="2" height="1.5"/><rect x="350" y="403.65" width="2" height="1.5"/><rect x="362" y="403.65" width="2" height="1.5"/><rect x="374" y="403.65" width="2" height="1.5"/><rect x="386" y="403.65" width="2" height="1.5"/><rect x="398" y="403.65" width="2" height="1.5"/><rect x="410" y="403.65" width="2" height="1.5"/><rect x="422" y="403.65" width="2" height="1.5"/><rect x="434" y="403.65" width="2" height="1.5"/><rect x="446" y="403.65" width="2" height="1.5"/><rect x="458" y="403.65" width="2" height="1.5"/><rect x="470" y="403.65" width="2" height="1.5"/><rect x="482" y="403.65" width="2" height="1.5"/><rect x="494" y="403.65" width="2" height="1.5"/><rect x="506" y="403.65" width="2" height="1.5"/><rect x="518" y="403.65" width="2" height="1.5"/><rect x="530" y="403.65" width="2" height="1.5"/><rect x="542" y="403.65" width="2" height="1.5"/><rect x="554" y="403.65" width="2" height="1.5"/><rect x="566" y="403.65" width="2" height="1.5"/><rect x="578" y="403.65" width="2" height="1.5"/><rect x="590" y="403.65" width="2" height="1.5"/><rect x="602" y="403.65" width="2" height="1.5"/><rect x="614" y="403.65" width="2" height="1.5"/><rect x="626" y="403.65" width="2" height="1.5"/><rect x="638" y="403.65" width="2" height="1.5"/><rect x="650" y="403.65" width="2" height="1.5"/><rect x="662" y="403.65" width="2" height="1.5"/><rect x="674" y="403.65" width="2" height="1.5"/><rect x="686" y="403.65" width="2" height="1.5"/><rect x="698" y="403.65" width="2" height="1.5"/><rect x="710" y="403.65" width="2" height="1.5"/><rect x="722" y="403.65" width="2" height="1.5"/><rect x="734" y="403.65" width="2" height="1.5"/><rect x="386" y="414.55" width="2" height="1.5"/><rect x="398" y="414.55" width="2" height="1.5"/><rect x="410" y="414.55" width="2" height="1.5"/><rect x="422" y="414.55" width="2" height="1.5"/><rect x="434" y="414.55" width="2" height="1.5"/><rect x="446" y="414.55" width="2" height="1.5"/><rect x="458" y="414.55" width="2" height="1.5"/><rect x="470" y="414.55" width="2" height="1.5"/><rect x="482" y="414.55" width="2" height="1.5"/><rect x="494" y="414.55" width="2" height="1.5"/><rect x="506" y="414.55" width="2" height="1.5"/><rect x="518" y="414.55" width="2" height="1.5"/><rect x="530" y="414.55" width="2" height="1.5"/><rect x="542" y="414.55" width="2" height="1.5"/><rect x="554" y="414.55" width="2" height="1.5"/><rect x="566" y="414.55" width="2" height="1.5"/><rect x="578" y="414.55" width="2" height="1.5"/><rect x="590" y="414.55" width="2" height="1.5"/><rect x="602" y="414.55" width="2" height="1.5"/><rect x="614" y="414.55" width="2" height="1.5"/><rect x="626" y="414.55" width="2" height="1.5"/><rect x="638" y="414.55" width="2" height="1.5"/><rect x="650" y="414.55" width="2" height="1.5"/><rect x="662" y="414.55" width="2" height="1.5"/><rect x="674" y="414.55" width="2" height="1.5"/><rect x="686" y="414.55" width="2" height="1.5"/><rect x="434" y="426.25" width="2" height="1.5"/><rect x="446" y="426.25" width="2" height="1.5"/><rect x="458" y="426.25" width="2" height="1.5"/><rect x="470" y="426.25" width="2" height="1.5"/><rect x="482" y="426.25" width="2" height="1.5"/><rect x="494" y="426.25" width="2" height="1.5"/><rect x="506" y="426.25" width="2" height="1.5"/><rect x="518" y="426.25" width="2" height="1.5"/><rect x="530" y="426.25" width="2" height="1.5"/><rect x="542" y="426.25" width="2" height="1.5"/><rect x="554" y="426.25" width="2" height="1.5"/><rect x="566" y="426.25" width="2" height="1.5"/><rect x="578" y="426.25" width="2" height="1.5"/><rect x="590" y="426.25" width="2" height="1.5"/><rect x="602" y="426.25" width="2" height="1.5"/><rect x="614" y="426.25" width="2" height="1.5"/><rect x="626" y="426.25" width="2" height="1.5"/></g>
<g fill="#fff" fill-opacity="0.22"><rect x="140" y="51.25" width="2" height="1.5"/><rect x="164" y="51.25" width="2" height="1.5"/><rect x="188" y="51.25" width="2" height="1.5"/><rect x="212" y="51.25" width="2" height="1.5"/><rect x="236" y="51.25" width="2" height="1.5"/><rect x="260" y="51.25" width="2" height="1.5"/><rect x="284" y="51.25" width="2" height="1.5"/><rect x="308" y="51.25" width="2" height="1.5"/><rect x="332" y="51.25" width="2" height="1.5"/><rect x="356" y="51.25" width="2" height="1.5"/><rect x="380" y="51.25" width="2" height="1.5"/><rect x="404" y="51.25" width="2" height="1.5"/><rect x="428" y="51.25" width="2" height="1.5"/><rect x="452" y="51.25" width="2" height="1.5"/><rect x="476" y="51.25" width="2" height="1.5"/><rect x="500" y="51.25" width="2" height="1.5"/><rect x="524" y="51.25" width="2" height="1.5"/><rect x="548" y="51.25" width="2" height="1.5"/><rect x="572" y="51.25" width="2" height="1.5"/><rect x="596" y="51.25" width="2" height="1.5"/><rect x="620" y="51.25" width="2" height="1.5"/><rect x="644" y="51.25" width="2" height="1.5"/><rect x="668" y="51.25" width="2" height="1.5"/><rect x="692" y="51.25" width="2" height="1.5"/><rect x="716" y="51.25" width="2" height="1.5"/><rect x="740" y="51.25" width="2" height="1.5"/><rect x="764" y="51.25" width="2" height="1.5"/><rect x="788" y="51.25" width="2" height="1.5"/><rect x="812" y="51.25" width="2" height="1.5"/><rect x="836" y="51.25" width="2" height="1.5"/><rect x="860" y="51.25" width="2" height="1.5"/><rect x="884" y="51.25" width="2" height="1.5"/><rect x="908" y="51.25" width="2" height="1.5"/><rect x="176" y="59.45" width="2" height="1.5"/><rect x="200" y="59.45" width="2" height="1.5"/><rect x="224" y="59.45" width="2" height="1.5"/><rect x="248" y="59.45" width="2" height="1.5"/><rect x="272" y="59.45" width="2" height="1.5"/><rect x="296" y="59.45" width="2" height="1.5"/><rect x="320" y="59.45" width="2" height="1.5"/><rect x="344" y="59.45" width="2" height="1.5"/><rect x="368" y="59.45" width="2" height="1.5"/><rect x="392" y="59.45" width="2" height="1.5"/><rect x="416" y="59.45" width="2" height="1.5"/><rect x="440" y="59.45" width="2" height="1.5"/><rect x="464" y="59.45" width="2" height="1.5"/><rect x="488" y="59.45" width="2" height="1.5"/><rect x="512" y="59.45" width="2" height="1.5"/><rect x="536" y="59.45" width="2" height="1.5"/><rect x="560" y="59.45" width="2" height="1.5"/><rect x="584" y="59.45" width="2" height="1.5"/><rect x="608" y="59.45" width="2" height="1.5"/><rect x="632" y="59.45" width="2" height="1.5"/><rect x="656" y="59.45" width="2" height="1.5"/><rect x="680" y="59.45" width="2" height="1.5"/><rect x="704" y="59.45" width="2" height="1.5"/><rect x="728" y="59.45" width="2" height="1.5"/><rect x="752" y="59.45" width="2" height="1.5"/><rect x="776" y="59.45" width="2" height="1.5"/><rect x="800" y="59.45" width="2" height="1.5"/><rect x="824" y="59.45" width="2" height="1.5"/><rect x="848" y="59.45" width="2" height="1.5"/><rect x="872" y="59.45" width="2" height="1.5"/><rect x="212" y="67.65" width="2" height="1.5"/><rect x="236" y="67.65" width="2" height="1.5"/><rect x="260" y="67.65" width="2" height="1.5"/><rect x="284" y="67.65" width="2" height="1.5"/><rect x="308" y="67.65" width="2" height="1.5"/><rect x="332" y="67.65" width="2" height="1.5"/><rect x="356" y="67.65" width="2" height="1.5"/><rect x="380" y="67.65" width="2" height="1.5"/><rect x="404" y="67.65" width="2" height="1.5"/><rect x="428" y="67.65" width="2" height="1.5"/><rect x="452" y="67.65" width="2" height="1.5"/><rect x="476" y="67.65" width="2" height="1.5"/><rect x="500" y="67.65" width="2" height="1.5"/><rect x="524" y="67.65" width="2" height="1.5"/><rect x="548" y="67.65" width="2" height="1.5"/><rect x="572" y="67.65" width="2" height="1.5"/><rect x="596" y="67.65" width="2" height="1.5"/><rect x="620" y="67.65" width="2" height="1.5"/><rect x="644" y="67.65" width="2" height="1.5"/><rect x="668" y="67.65" width="2" height="1.5"/><rect x="692" y="67.65" width="2" height="1.5"/><rect x="716" y="67.65" width="2" height="1.5"/><rect x="740" y="67.65" width="2" height="1.5"/><rect x="764" y="67.65" width="2" height="1.5"/><rect x="788" y="67.65" width="2" height="1.5"/><rect x="812" y="67.65" width="2" height="1.5"/><rect x="836" y="67.65" width="2" height="1.5"/><rect x="308" y="83.25" width="2" height="1.5"/><rect x="332" y="83.25" width="2" height="1.5"/><rect x="356" y="83.25" width="2" height="1.5"/><rect x="380" y="83.25" width="2" height="1.5"/><rect x="404" y="83.25" width="2" height="1.5"/><rect x="428" y="83.25" width="2" height="1.5"/><rect x="452" y="83.25" width="2" height="1.5"/><rect x="476" y="83.25" width="2" height="1.5"/><rect x="500" y="83.25" width="2" height="1.5"/><rect x="524" y="83.25" width="2" height="1.5"/><rect x="548" y="83.25" width="2" height="1.5"/><rect x="572" y="83.25" width="2" height="1.5"/><rect x="596" y="83.25" width="2" height="1.5"/><rect x="620" y="83.25" width="2" height="1.5"/><rect x="644" y="83.25" width="2" height="1.5"/><rect x="668" y="83.25" width="2" height="1.5"/><rect x="692" y="83.25" width="2" height="1.5"/><rect x="716" y="83.25" width="2" height="1.5"/><rect x="740" y="83.25" width="2" height="1.5"/><rect x="764" y="83.25" width="2" height="1.5"/><rect x="356" y="99.25" width="2" height="1.5"/><rect x="380" y="99.25" width="2" height="1.5"/><rect x="404" y="99.25" width="2" height="1.5"/><rect x="428" y="99.25" width="2" height="1.5"/><rect x="452" y="99.25" width="2" height="1.5"/><rect x="476" y="99.25" width="2" height="1.5"/><rect x="500" y="99.25" width="2" height="1.5"/><rect x="524" y="99.25" width="2" height="1.5"/><rect x="548" y="99.25" width="2" height="1.5"/><rect x="572" y="99.25" width="2" height="1.5"/><rect x="596" y="99.25" width="2" height="1.5"/><rect x="620" y="99.25" width="2" height="1.5"/><rect x="644" y="99.25" width="2" height="1.5"/><rect x="668" y="99.25" width="2" height="1.5"/><rect x="692" y="99.25" width="2" height="1.5"/><rect x="428" y="115.25" width="2" height="1.5"/><rect x="452" y="115.25" width="2" height="1.5"/><rect x="476" y="115.25" width="2" height="1.5"/><rect x="500" y="115.25" width="2" height="1.5"/><rect x="524" y="115.25" width="2" height="1.5"/><rect x="548" y="115.25" width="2" height="1.5"/><rect x="572" y="115.25" width="2" height="1.5"/><rect x="596" y="115.25" width="2" height="1.5"/><rect x="620" y="115.25" width="2" height="1.5"/><rect x="140" y="194.25" width="2" height="1.5"/><rect x="164" y="194.25" width="2" height="1.5"/><rect x="188" y="194.25" width="2" height="1.5"/><rect x="212" y="194.25" width="2" height="1.5"/><rect x="236" y="194.25" width="2" height="1.5"/><rect x="260" y="194.25" width="2" height="1.5"/><rect x="284" y="194.25" width="2" height="1.5"/><rect x="308" y="194.25" width="2" height="1.5"/><rect x="332" y="194.25" width="2" height="1.5"/><rect x="356" y="194.25" width="2" height="1.5"/><rect x="380" y="194.25" width="2" height="1.5"/><rect x="404" y="194.25" width="2" height="1.5"/><rect x="428" y="194.25" width="2" height="1.5"/><rect x="452" y="194.25" width="2" height="1.5"/><rect x="476" y="194.25" width="2" height="1.5"/><rect x="500" y="194.25" width="2" height="1.5"/><rect x="524" y="194.25" width="2" height="1.5"/><rect x="548" y="194.25" width="2" height="1.5"/><rect x="572" y="194.25" width="2" height="1.5"/><rect x="596" y="194.25" width="2" height="1.5"/><rect x="620" y="194.25" width="2" height="1.5"/><rect x="644" y="194.25" width="2" height="1.5"/><rect x="668" y="194.25" width="2" height="1.5"/><rect x="692" y="194.25" width="2" height="1.5"/><rect x="716" y="194.25" width="2" height="1.5"/><rect x="740" y="194.25" width="2" height="1.5"/><rect x="764" y="194.25" width="2" height="1.5"/><rect x="788" y="194.25" width="2" height="1.5"/><rect x="812" y="194.25" width="2" height="1.5"/><rect x="836" y="194.25" width="2" height="1.5"/><rect x="860" y="194.25" width="2" height="1.5"/><rect x="884" y="194.25" width="2" height="1.5"/><rect x="908" y="194.25" width="2" height="1.5"/><rect x="176" y="202.45" width="2" height="1.5"/><rect x="200" y="202.45" width="2" height="1.5"/><rect x="224" y="202.45" width="2" height="1.5"/><rect x="248" y="202.45" width="2" height="1.5"/><rect x="272" y="202.45" width="2" height="1.5"/><rect x="296" y="202.45" width="2" height="1.5"/><rect x="320" y="202.45" width="2" height="1.5"/><rect x="344" y="202.45" width="2" height="1.5"/><rect x="368" y="202.45" width="2" height="1.5"/><rect x="392" y="202.45" width="2" height="1.5"/><rect x="416" y="202.45" width="2" height="1.5"/><rect x="440" y="202.45" width="2" height="1.5"/><rect x="464" y="202.45" width="2" height="1.5"/><rect x="488" y="202.45" width="2" height="1.5"/><rect x="512" y="202.45" width="2" height="1.5"/><rect x="536" y="202.45" width="2" height="1.5"/><rect x="560" y="202.45" width="2" height="1.5"/><rect x="584" y="202.45" width="2" height="1.5"/><rect x="608" y="202.45" width="2" height="1.5"/><rect x="632" y="202.45" width="2" height="1.5"/><rect x="656" y="202.45" width="2" height="1.5"/><rect x="680" y="202.45" width="2" height="1.5"/><rect x="704" y="202.45" width="2" height="1.5"/><rect x="728" y="202.45" width="2" height="1.5"/><rect x="752" y="202.45" width="2" height="1.5"/><rect x="776" y="202.45" width="2" height="1.5"/><rect x="800" y="202.45" width="2" height="1.5"/><rect x="824" y="202.45" width="2" height="1.5"/><rect x="848" y="202.45" width="2" height="1.5"/><rect x="872" y="202.45" width="2" height="1.5"/><rect x="212" y="210.65" width="2" height="1.5"/><rect x="236" y="210.65" width="2" height="1.5"/><rect x="260" y="210.65" width="2" height="1.5"/><rect x="284" y="210.65" width="2" height="1.5"/><rect x="308" y="210.65" width="2" height="1.5"/><rect x="332" y="210.65" width="2" height="1.5"/><rect x="356" y="210.65" width="2" height="1.5"/><rect x="380" y="210.65" width="2" height="1.5"/><rect x="404" y="210.65" width="2" height="1.5"/><rect x="428" y="210.65" width="2" height="1.5"/><rect x="452" y="210.65" width="2" height="1.5"/><rect x="476" y="210.65" width="2" height="1.5"/><rect x="500" y="210.65" width="2" height="1.5"/><rect x="524" y="210.65" width="2" height="1.5"/><rect x="548" y="210.65" width="2" height="1.5"/><rect x="572" y="210.65" width="2" height="1.5"/><rect x="596" y="210.65" width="2" height="1.5"/><rect x="620" y="210.65" width="2" height="1.5"/><rect x="644" y="210.65" width="2" height="1.5"/><rect x="668" y="210.65" width="2" height="1.5"/><rect x="692" y="210.65" width="2" height="1.5"/><rect x="716" y="210.65" width="2" height="1.5"/><rect x="740" y="210.65" width="2" height="1.5"/><rect x="764" y="210.65" width="2" height="1.5"/><rect x="788" y="210.65" width="2" height="1.5"/><rect x="812" y="210.65" width="2" height="1.5"/><rect x="836" y="210.65" width="2" height="1.5"/><rect x="308" y="226.25" width="2" height="1.5"/><rect x="332" y="226.25" width="2" height="1.5"/><rect x="356" y="226.25" width="2" height="1.5"/><rect x="380" y="226.25" width="2" height="1.5"/><rect x="404" y="226.25" width="2" height="1.5"/><rect x="428" y="226.25" width="2" height="1.5"/><rect x="452" y="226.25" width="2" height="1.5"/><rect x="476" y="226.25" width="2" height="1.5"/><rect x="500" y="226.25" width="2" height="1.5"/><rect x="524" y="226.25" width="2" height="1.5"/><rect x="548" y="226.25" width="2" height="1.5"/><rect x="572" y="226.25" width="2" height="1.5"/><rect x="596" y="226.25" width="2" height="1.5"/><rect x="620" y="226.25" width="2" height="1.5"/><rect x="644" y="226.25" width="2" height="1.5"/><rect x="668" y="226.25" width="2" height="1.5"/><rect x="692" y="226.25" width="2" height="1.5"/><rect x="716" y="226.25" width="2" height="1.5"/><rect x="740" y="226.25" width="2" height="1.5"/><rect x="764" y="226.25" width="2" height="1.5"/><rect x="356" y="242.25" width="2" height="1.5"/><rect x="380" y="242.25" width="2" height="1.5"/><rect x="404" y="242.25" width="2" height="1.5"/><rect x="428" y="242.25" width="2" height="1.5"/><rect x="452" y="242.25" width="2" height="1.5"/><rect x="476" y="242.25" width="2" height="1.5"/><rect x="500" y="242.25" width="2" height="1.5"/><rect x="524" y="242.25" width="2" height="1.5"/><rect x="548" y="242.25" width="2" height="1.5"/><rect x="572" y="242.25" width="2" height="1.5"/><rect x="596" y="242.25" width="2" height="1.5"/><rect x="620" y="242.25" width="2" height="1.5"/><rect x="644" y="242.25" width="2" height="1.5"/><rect x="668" y="242.25" width="2" height="1.5"/><rect x="692" y="242.25" width="2" height="1.5"/><rect x="428" y="258.25" width="2" height="1.5"/><rect x="452" y="258.25" width="2" height="1.5"/><rect x="476" y="258.25" width="2" height="1.5"/><rect x="500" y="258.25" width="2" height="1.5"/><rect x="524" y="258.25" width="2" height="1.5"/><rect x="548" y="258.25" width="2" height="1.5"/><rect x="572" y="258.25" width="2" height="1.5"/><rect x="596" y="258.25" width="2" height="1.5"/><rect x="620" y="258.25" width="2" height="1.5"/></g>
</g>
<g shape-rendering="crispEdges">
<line x1="44.5" y1="35.5" x2="1005" y2="35.5" stroke="#111" stroke-width="1"/>
<line x1="44.5" y1="35.5" x2="44.5" y2="134.5" stroke="#111" stroke-width="1"/>
<line x1="1004.5" y1="35.5" x2="1004.5" y2="134.5" stroke="#111" stroke-width="1"/>
<line x1="45.0" y1="31.5" x2="45.0" y2="35.5" stroke="#111" stroke-width="1"/>
<line x1="57.0" y1="32.5" x2="57.0" y2="35.5" stroke="#111" stroke-width="1"/>
<line x1="69.0" y1="32.5" x2="69.0" y2="35.5" stroke="#111" stroke-width="1"/>
<line x1="81.0" y1="32.5" x2="81.0" y2="35.5" stroke="#111" stroke-width="1"/>
<line x1="93.0" y1="32.5" x2="93.0" y2="35.5" stroke="#111" stroke-width="1"/>
<line x1="105.0" y1="32.5" x2="105.0" y2="35.5" stroke="#111" stroke-width="1"/>
<line x1="117.0" y1="32.5" x2="117.0" y2="35.5" stroke="#111" stroke-width="1"/>
<line x1="129.0" y1="32.5" x2="129.0" y2="35.5" stroke="#111" stroke-width="1"/>
<line x1="141.0" y1="32.5" x2="141.0" y2="35.5" stroke="#111" stroke-width="1"/>
<line x1="153.0" y1="32.5" x2="153.0" y2="35.5" stroke="#111" stroke-width="1"/>
<line x1="165.0" y1="32.5" x2="165.0" y2="35.5" stroke="#111" stroke-width="1"/>
<line x1="177.0" y1="32.5" x2="177.0" y2="35.5" stroke="#111" stroke-width="1"/>
<line x1="189.0" y1="32.5" x2="189.0" y2="35.5" stroke="#111" stroke-width="1"/>
<line x1="201.0" y1="32.5" x2="201.0" y2="35.5" stroke="#111" stroke-width="1"/>
<line x1="213.0" y1="32.5" x2="213.0" y2="35.5" stroke="#111" stroke-width="1"/>
<line x1="225.0" y1="32.5" x2="225.0" y2="35.5" stroke="#111" stroke-width="1"/>
<line x1="237.0" y1="31.5" x2="237.0" y2="35.5" stroke="#111" stroke-width="1"/>
<line x1="249.0" y1="32.5" x2="249.0" y2="35.5" stroke="#111" stroke-width="1"/>
<line x1="261.0" y1="32.5" x2="261.0" y2="35.5" stroke="#111" stroke-width="1"/>
<line x1="273.0" y1="32.5" x2="273.0" y2="35.5" stroke="#111" stroke-width="1"/>
<line x1="285.0" y1="32.5" x2="285.0" y2="35.5" stroke="#111" stroke-width="1"/>
<line x1="297.0" y1="32.5" x2="297.0" y2="35.5" stroke="#111" stroke-width="1"/>
<line x1="309.0" y1="32.5" x2="309.0" y2="35.5" stroke="#111" stroke-width="1"/>
<line x1="321.0" y1="32.5" x2="321.0" y2="35.5" stroke="#111" stroke-width="1"/>
<line x1="333.0" y1="32.5" x2="333.0" y2="35.5" stroke="#111" stroke-width="1"/>
<line x1="345.0" y1="32.5" x2="345.0" y2="35.5" stroke="#111" stroke-width="1"/>
<line x1="357.0" y1="32.5" x2="357.0" y2="35.5" stroke="#111" stroke-width="1"/>
<line x1="369.0" y1="32.5" x2="369.0" y2="35.5" stroke="#111" stroke-width="1"/>
<line x1="381.0" y1="32.5" x2="381.0" y2="35.5" stroke="#111" stroke-width="1"/>
<line x1="393.0" y1="32.5" x2="393.0" y2="35.5" stroke="#111" stroke-width="1"/>
<line x1="405.0" y1="32.5" x2="405.0" y2="35.5" stroke="#111" stroke-width="1"/>
<line x1="417.0" y1="32.5" x2="417.0" y2="35.5" stroke="#111" stroke-width="1"/>
<line x1="429.0" y1="31.5" x2="429.0" y2="35.5" stroke="#111" stroke-width="1"/>
<line x1="441.0" y1="32.5" x2="441.0" y2="35.5" stroke="#111" stroke-width="1"/>
<line x1="453.0" y1="32.5" x2="453.0" y2="35.5" stroke="#111" stroke-width="1"/>
<line x1="465.0" y1="32.5" x2="465.0" y2="35.5" stroke="#111" stroke-width="1"/>
<line x1="477.0" y1="32.5" x2="477.0" y2="35.5" stroke="#111" stroke-width="1"/>
<line x1="489.0" y1="32.5" x2="489.0" y2="35.5" stroke="#111" stroke-width="1"/>
<line x1="501.0" y1="32.5" x2="501.0" y2="35.5" stroke="#111" stroke-width="1"/>
<line x1="513.0" y1="32.5" x2="513.0" y2="35.5" stroke="#111" stroke-width="1"/>
<line x1="525.0" y1="32.5" x2="525.0" y2="35.5" stroke="#111" stroke-width="1"/>
<line x1="537.0" y1="32.5" x2="537.0" y2="35.5" stroke="#111" stroke-width="1"/>
<line x1="549.0" y1="32.5" x2="549.0" y2="35.5" stroke="#111" stroke-width="1"/>
<line x1="561.0" y1="32.5" x2="561.0" y2="35.5" stroke="#111" stroke-width="1"/>
<line x1="573.0" y1="32.5" x2="573.0" y2="35.5" stroke="#111" stroke-width="1"/>
<line x1="585.0" y1="32.5" x2="585.0" y2="35.5" stroke="#111" stroke-width="1"/>
<line x1="597.0" y1="32.5" x2="597.0" y2="35.5" stroke="#111" stroke-width="1"/>
<line x1="609.0" y1="32.5" x2="609.0" y2="35.5" stroke="#111" stroke-width="1"/>
<line x1="621.0" y1="31.5" x2="621.0" y2="35.5" stroke="#111" stroke-width="1"/>
<line x1="633.0" y1="32.5" x2="633.0" y2="35.5" stroke="#111" stroke-width="1"/>
<line x1="645.0" y1="32.5" x2="645.0" y2="35.5" stroke="#111" stroke-width="1"/>
<line x1="657.0" y1="32.5" x2="657.0" y2="35.5" stroke="#111" stroke-width="1"/>
<line x1="669.0" y1="32.5" x2="669.0" y2="35.5" stroke="#111" stroke-width="1"/>
<line x1="681.0" y1="32.5" x2="681.0" y2="35.5" stroke="#111" stroke-width="1"/>
<line x1="693.0" y1="32.5" x2="693.0" y2="35.5" stroke="#111" stroke-width="1"/>
<line x1="705.0" y1="32.5" x2="705.0" y2="35.5" stroke="#111" stroke-width="1"/>
<line x1="717.0" y1="32.5" x2="717.0" y2="35.5" stroke="#111" stroke-width="1"/>
<line x1="729.0" y1="32.5" x2="729.0" y2="35.5" stroke="#111" stroke-width="1"/>
<line x1="741.0" y1="32.5" x2="741.0" y2="35.5" stroke="#111" stroke-width="1"/>
<line x1="753.0" y1="32.5" x2="753.0" y2="35.5" stroke="#111" stroke-width="1"/>
<line x1="765.0" y1="32.5" x2="765.0" y2="35.5" stroke="#111" stroke-width="1"/>
<line x1="777.0" y1="32.5" x2="777.0" y2="35.5" stroke="#111" stroke-width="1"/>
<line x1="789.0" y1="32.5" x2="789.0" y2="35.5" stroke="#111" stroke-width="1"/>
<line x1="801.0" y1="32.5" x2="801.0" y2="35.5" stroke="#111" stroke-width="1"/>
<line x1="813.0" y1="31.5" x2="813.0" y2="35.5" stroke="#111" stroke-width="1"/>
<line x1="825.0" y1="32.5" x2="825.0" y2="35.5" stroke="#111" stroke-width="1"/>
<line x1="837.0" y1="32.5" x2="837.0" y2="35.5" stroke="#111" stroke-width="1"/>
<line x1="849.0" y1="32.5" x2="849.0" y2="35.5" stroke="#111" stroke-width="1"/>
<line x1="861.0" y1="32.5" x2="861.0" y2="35.5" stroke="#111" stroke-width="1"/>
<line x1="873.0" y1="32.5" x2="873.0" y2="35.5" stroke="#111" stroke-width="1"/>
<line x1="885.0" y1="32.5" x2="885.0" y2="35.5" stroke="#111" stroke-width="1"/>
<line x1="897.0" y1="32.5" x2="897.0" y2="35.5" stroke="#111" stroke-width="1"/>
<line x1="909.0" y1="32.5" x2="909.0" y2="35.5" stroke="#111" stroke-width="1"/>
<line x1="921.0" y1="32.5" x2="921.0" y2="35.5" stroke="#111" stroke-width="1"/>
<line x1="933.0" y1="32.5" x2="933.0" y2="35.5" stroke="#111" stroke-width="1"/>
<line x1="945.0" y1="32.5" x2="945.0" y2="35.5" stroke="#111" stroke-width="1"/>
<line x1="957.0" y1="32.5" x2="957.0" y2="35.5" stroke="#111" stroke-width="1"/>
<line x1="969.0" y1="32.5" x2="969.0" y2="35.5" stroke="#111" stroke-width="1"/>
<line x1="981.0" y1="32.5" x2="981.0" y2="35.5" stroke="#111" stroke-width="1"/>
<line x1="993.0" y1="32.5" x2="993.0" y2="35.5" stroke="#111" stroke-width="1"/>
<line x1="1005.0" y1="31.5" x2="1005.0" y2="35.5" stroke="#111" stroke-width="1"/>
<line x1="41.0" y1="44.5" x2="44.5" y2="44.5" stroke="#111" stroke-width="1"/>
<line x1="1004.5" y1="44.5" x2="1008.0" y2="44.5" stroke="#111" stroke-width="1"/>
<line x1="41.0" y1="52" x2="44.5" y2="52" stroke="#111" stroke-width="1"/>
<line x1="1004.5" y1="52" x2="1008.0" y2="52" stroke="#111" stroke-width="1"/>
<line x1="41.0" y1="60" x2="44.5" y2="60" stroke="#111" stroke-width="1"/>
<line x1="1004.5" y1="60" x2="1008.0" y2="60" stroke="#111" stroke-width="1"/>
<line x1="41.0" y1="68" x2="44.5" y2="68" stroke="#111" stroke-width="1"/>
<line x1="1004.5" y1="68" x2="1008.0" y2="68" stroke="#111" stroke-width="1"/>
<line x1="41.0" y1="84" x2="44.5" y2="84" stroke="#111" stroke-width="1"/>
<line x1="1004.5" y1="84" x2="1008.0" y2="84" stroke="#111" stroke-width="1"/>
<line x1="41.0" y1="100" x2="44.5" y2="100" stroke="#111" stroke-width="1"/>
<line x1="1004.5" y1="100" x2="1008.0" y2="100" stroke="#111" stroke-width="1"/>
<line x1="41.0" y1="116" x2="44.5" y2="116" stroke="#111" stroke-width="1"/>
<line x1="1004.5" y1="116" x2="1008.0" y2="116" stroke="#111" stroke-width="1"/>
<line x1="41.0" y1="132" x2="44.5" y2="132" stroke="#111" stroke-width="1"/>
<line x1="1004.5" y1="132" x2="1008.0" y2="132" stroke="#111" stroke-width="1"/>
<line x1="44.5" y1="178.5" x2="1005" y2="178.5" stroke="#111" stroke-width="1"/>
<line x1="44.5" y1="178.5" x2="44.5" y2="277.5" stroke="#111" stroke-width="1"/>
<line x1="1004.5" y1="178.5" x2="1004.5" y2="277.5" stroke="#111" stroke-width="1"/>
<line x1="45.0" y1="174.5" x2="45.0" y2="178.5" stroke="#111" stroke-width="1"/>
<line x1="57.0" y1="175.5" x2="57.0" y2="178.5" stroke="#111" stroke-width="1"/>
<line x1="69.0" y1="175.5" x2="69.0" y2="178.5" stroke="#111" stroke-width="1"/>
<line x1="81.0" y1="175.5" x2="81.0" y2="178.5" stroke="#111" stroke-width="1"/>
<line x1="93.0" y1="175.5" x2="93.0" y2="178.5" stroke="#111" stroke-width="1"/>
<line x1="105.0" y1="175.5" x2="105.0" y2="178.5" stroke="#111" stroke-width="1"/>
<line x1="117.0" y1="175.5" x2="117.0" y2="178.5" stroke="#111" stroke-width="1"/>
<line x1="129.0" y1="175.5" x2="129.0" y2="178.5" stroke="#111" stroke-width="1"/>
<line x1="141.0" y1="175.5" x2="141.0" y2="178.5" stroke="#111" stroke-width="1"/>
<line x1="153.0" y1="175.5" x2="153.0" y2="178.5" stroke="#111" stroke-width="1"/>
<line x1="165.0" y1="175.5" x2="165.0" y2="178.5" stroke="#111" stroke-width="1"/>
<line x1="177.0" y1="175.5" x2="177.0" y2="178.5" stroke="#111" stroke-width="1"/>
<line x1="189.0" y1="175.5" x2="189.0" y2="178.5" stroke="#111" stroke-width="1"/>
<line x1="201.0" y1="175.5" x2="201.0" y2="178.5" stroke="#111" stroke-width="1"/>
<line x1="213.0" y1="175.5" x2="213.0" y2="178.5" stroke="#111" stroke-width="1"/>
<line x1="225.0" y1="175.5" x2="225.0" y2="178.5" stroke="#111" stroke-width="1"/>
<line x1="237.0" y1="174.5" x2="237.0" y2="178.5" stroke="#111" stroke-width="1"/>
<line x1="249.0" y1="175.5" x2="249.0" y2="178.5" stroke="#111" stroke-width="1"/>
<line x1="261.0" y1="175.5" x2="261.0" y2="178.5" stroke="#111" stroke-width="1"/>
<line x1="273.0" y1="175.5" x2="273.0" y2="178.5" stroke="#111" stroke-width="1"/>
<line x1="285.0" y1="175.5" x2="285.0" y2="178.5" stroke="#111" stroke-width="1"/>
<line x1="297.0" y1="175.5" x2="297.0" y2="178.5" stroke="#111" stroke-width="1"/>
<line x1="309.0" y1="175.5" x2="309.0" y2="178.5" stroke="#111" stroke-width="1"/>
<line x1="321.0" y1="175.5" x2="321.0" y2="178.5" stroke="#111" stroke-width="1"/>
<line x1="333.0" y1="175.5" x2="333.0" y2="178.5" stroke="#111" stroke-width="1"/>
<line x1="345.0" y1="175.5" x2="345.0" y2="178.5" stroke="#111" stroke-width="1"/>
<line x1="357.0" y1="175.5" x2="357.0" y2="178.5" stroke="#111" stroke-width="1"/>
<line x1="369.0" y1="175.5" x2="369.0" y2="178.5" stroke="#111" stroke-width="1"/>
<line x1="381.0" y1="175.5" x2="381.0" y2="178.5" stroke="#111" stroke-width="1"/>
<line x1="393.0" y1="175.5" x2="393.0" y2="178.5" stroke="#111" stroke-width="1"/>
<line x1="405.0" y1="175.5" x2="405.0" y2="178.5" stroke="#111" stroke-width="1"/>
<line x1="417.0" y1="175.5" x2="417.0" y2="178.5" stroke="#111" stroke-width="1"/>
<line x1="429.0" y1="174.5" x2="429.0" y2="178.5" stroke="#111" stroke-width="1"/>
<line x1="441.0" y1="175.5" x2="441.0" y2="178.5" stroke="#111" stroke-width="1"/>
<line x1="453.0" y1="175.5" x2="453.0" y2="178.5" stroke="#111" stroke-width="1"/>
<line x1="465.0" y1="175.5" x2="465.0" y2="178.5" stroke="#111" stroke-width="1"/>
<line x1="477.0" y1="175.5" x2="477.0" y2="178.5" stroke="#111" stroke-width="1"/>
<line x1="489.0" y1="175.5" x2="489.0" y2="178.5" stroke="#111" stroke-width="1"/>
<line x1="501.0" y1="175.5" x2="501.0" y2="178.5" stroke="#111" stroke-width="1"/>
<line x1="513.0" y1="175.5" x2="513.0" y2="178.5" stroke="#111" stroke-width="1"/>
<line x1="525.0" y1="175.5" x2="525.0" y2="178.5" stroke="#111" stroke-width="1"/>
<line x1="537.0" y1="175.5" x2="537.0" y2="178.5" stroke="#111" stroke-width="1"/>
<line x1="549.0" y1="175.5" x2="549.0" y2="178.5" stroke="#111" stroke-width="1"/>
<line x1="561.0" y1="175.5" x2="561.0" y2="178.5" stroke="#111" stroke-width="1"/>
<line x1="573.0" y1="175.5" x2="573.0" y2="178.5" stroke="#111" stroke-width="1"/>
<line x1="585.0" y1="175.5" x2="585.0" y2="178.5" stroke="#111" stroke-width="1"/>
<line x1="597.0" y1="175.5" x2="597.0" y2="178.5" stroke="#111" stroke-width="1"/>
<line x1="609.0" y1="175.5" x2="609.0" y2="178.5" stroke="#111" stroke-width="1"/>
<line x1="621.0" y1="174.5" x2="621.0" y2="178.5" stroke="#111" stroke-width="1"/>
<line x1="633.0" y1="175.5" x2="633.0" y2="178.5" stroke="#111" stroke-width="1"/>
<line x1="645.0" y1="175.5" x2="645.0" y2="178.5" stroke="#111" stroke-width="1"/>
<line x1="657.0" y1="175.5" x2="657.0" y2="178.5" stroke="#111" stroke-width="1"/>
<line x1="669.0" y1="175.5" x2="669.0" y2="178.5" stroke="#111" stroke-width="1"/>
<line x1="681.0" y1="175.5" x2="681.0" y2="178.5" stroke="#111" stroke-width="1"/>
<line x1="693.0" y1="175.5" x2="693.0" y2="178.5" stroke="#111" stroke-width="1"/>
<line x1="705.0" y1="175.5" x2="705.0" y2="178.5" stroke="#111" stroke-width="1"/>
<line x1="717.0" y1="175.5" x2="717.0" y2="178.5" stroke="#111" stroke-width="1"/>
<line x1="729.0" y1="175.5" x2="729.0" y2="178.5" stroke="#111" stroke-width="1"/>
<line x1="741.0" y1="175.5" x2="741.0" y2="178.5" stroke="#111" stroke-width="1"/>
<line x1="753.0" y1="175.5" x2="753.0" y2="178.5" stroke="#111" stroke-width="1"/>
<line x1="765.0" y1="175.5" x2="765.0" y2="178.5" stroke="#111" stroke-width="1"/>
<line x1="777.0" y1="175.5" x2="777.0" y2="178.5" stroke="#111" stroke-width="1"/>
<line x1="789.0" y1="175.5" x2="789.0" y2="178.5" stroke="#111" stroke-width="1"/>
<line x1="801.0" y1="175.5" x2="801.0" y2="178.5" stroke="#111" stroke-width="1"/>
<line x1="813.0" y1="174.5" x2="813.0" y2="178.5" stroke="#111" stroke-width="1"/>
<line x1="825.0" y1="175.5" x2="825.0" y2="178.5" stroke="#111" stroke-width="1"/>
<line x1="837.0" y1="175.5" x2="837.0" y2="178.5" stroke="#111" stroke-width="1"/>
<line x1="849.0" y1="175.5" x2="849.0" y2="178.5" stroke="#111" stroke-width="1"/>
<line x1="861.0" y1="175.5" x2="861.0" y2="178.5" stroke="#111" stroke-width="1"/>
<line x1="873.0" y1="175.5" x2="873.0" y2="178.5" stroke="#111" stroke-width="1"/>
<line x1="885.0" y1="175.5" x2="885.0" y2="178.5" stroke="#111" stroke-width="1"/>
<line x1="897.0" y1="175.5" x2="897.0" y2="178.5" stroke="#111" stroke-width="1"/>
<line x1="909.0" y1="175.5" x2="909.0" y2="178.5" stroke="#111" stroke-width="1"/>
<line x1="921.0" y1="175.5" x2="921.0" y2="178.5" stroke="#111" stroke-width="1"/>
<line x1="933.0" y1="175.5" x2="933.0" y2="178.5" stroke="#111" stroke-width="1"/>
<line x1="945.0" y1="175.5" x2="945.0" y2="178.5" stroke="#111" stroke-width="1"/>
<line x1="957.0" y1="175.5" x2="957.0" y2="178.5" stroke="#111" stroke-width="1"/>
<line x1="969.0" y1="175.5" x2="969.0" y2="178.5" stroke="#111" stroke-width="1"/>
<line x1="981.0" y1="175.5" x2="981.0" y2="178.5" stroke="#111" stroke-width="1"/>
<line x1="993.0" y1="175.5" x2="993.0" y2="178.5" stroke="#111" stroke-width="1"/>
<line x1="1005.0" y1="174.5" x2="1005.0" y2="178.5" stroke="#111" stroke-width="1"/>
<line x1="41.0" y1="187.5" x2="44.5" y2="187.5" stroke="#111" stroke-width="1"/>
<line x1="1004.5" y1="187.5" x2="1008.0" y2="187.5" stroke="#111" stroke-width="1"/>
<line x1="41.0" y1="195" x2="44.5" y2="195" stroke="#111" stroke-width="1"/>
<line x1="1004.5" y1="195" x2="1008.0" y2="195" stroke="#111" stroke-width="1"/>
<line x1="41.0" y1="203" x2="44.5" y2="203" stroke="#111" stroke-width="1"/>
<line x1="1004.5" y1="203" x2="1008.0" y2="203" stroke="#111" stroke-width="1"/>
<line x1="41.0" y1="211" x2="44.5" y2="211" stroke="#111" stroke-width="1"/>
<line x1="1004.5" y1="211" x2="1008.0" y2="211" stroke="#111" stroke-width="1"/>
<line x1="41.0" y1="227" x2="44.5" y2="227" stroke="#111" stroke-width="1"/>
<line x1="1004.5" y1="227" x2="1008.0" y2="227" stroke="#111" stroke-width="1"/>
<line x1="41.0" y1="243" x2="44.5" y2="243" stroke="#111" stroke-width="1"/>
<line x1="1004.5" y1="243" x2="1008.0" y2="243" stroke="#111" stroke-width="1"/>
<line x1="41.0" y1="259" x2="44.5" y2="259" stroke="#111" stroke-width="1"/>
<line x1="1004.5" y1="259" x2="1008.0" y2="259" stroke="#111" stroke-width="1"/>
<line x1="41.0" y1="275" x2="44.5" y2="275" stroke="#111" stroke-width="1"/>
<line x1="1004.5" y1="275" x2="1008.0" y2="275" stroke="#111" stroke-width="1"/>
<line x1="44.5" y1="336.5" x2="1005" y2="336.5" stroke="#111" stroke-width="1"/>
<line x1="44.5" y1="336.5" x2="44.5" y2="441" stroke="#111" stroke-width="1"/>
<line x1="1004.5" y1="336.5" x2="1004.5" y2="441" stroke="#111" stroke-width="1"/>
<line x1="45.0" y1="332.5" x2="45.0" y2="336.5" stroke="#111" stroke-width="1"/>
<line x1="57.0" y1="333.5" x2="57.0" y2="336.5" stroke="#111" stroke-width="1"/>
<line x1="69.0" y1="333.5" x2="69.0" y2="336.5" stroke="#111" stroke-width="1"/>
<line x1="81.0" y1="333.5" x2="81.0" y2="336.5" stroke="#111" stroke-width="1"/>
<line x1="93.0" y1="333.5" x2="93.0" y2="336.5" stroke="#111" stroke-width="1"/>
<line x1="105.0" y1="333.5" x2="105.0" y2="336.5" stroke="#111" stroke-width="1"/>
<line x1="117.0" y1="333.5" x2="117.0" y2="336.5" stroke="#111" stroke-width="1"/>
<line x1="129.0" y1="333.5" x2="129.0" y2="336.5" stroke="#111" stroke-width="1"/>
<line x1="141.0" y1="333.5" x2="141.0" y2="336.5" stroke="#111" stroke-width="1"/>
<line x1="153.0" y1="333.5" x2="153.0" y2="336.5" stroke="#111" stroke-width="1"/>
<line x1="165.0" y1="333.5" x2="165.0" y2="336.5" stroke="#111" stroke-width="1"/>
<line x1="177.0" y1="333.5" x2="177.0" y2="336.5" stroke="#111" stroke-width="1"/>
<line x1="189.0" y1="333.5" x2="189.0" y2="336.5" stroke="#111" stroke-width="1"/>
<line x1="201.0" y1="333.5" x2="201.0" y2="336.5" stroke="#111" stroke-width="1"/>
<line x1="213.0" y1="333.5" x2="213.0" y2="336.5" stroke="#111" stroke-width="1"/>
<line x1="225.0" y1="333.5" x2="225.0" y2="336.5" stroke="#111" stroke-width="1"/>
<line x1="237.0" y1="332.5" x2="237.0" y2="336.5" stroke="#111" stroke-width="1"/>
<line x1="249.0" y1="333.5" x2="249.0" y2="336.5" stroke="#111" stroke-width="1"/>
<line x1="261.0" y1="333.5" x2="261.0" y2="336.5" stroke="#111" stroke-width="1"/>
<line x1="273.0" y1="333.5" x2="273.0" y2="336.5" stroke="#111" stroke-width="1"/>
<line x1="285.0" y1="333.5" x2="285.0" y2="336.5" stroke="#111" stroke-width="1"/>
<line x1="297.0" y1="333.5" x2="297.0" y2="336.5" stroke="#111" stroke-width="1"/>
<line x1="309.0" y1="333.5" x2="309.0" y2="336.5" stroke="#111" stroke-width="1"/>
<line x1="321.0" y1="333.5" x2="321.0" y2="336.5" stroke="#111" stroke-width="1"/>
<line x1="333.0" y1="333.5" x2="333.0" y2="336.5" stroke="#111" stroke-width="1"/>
<line x1="345.0" y1="333.5" x2="345.0" y2="336.5" stroke="#111" stroke-width="1"/>
<line x1="357.0" y1="333.5" x2="357.0" y2="336.5" stroke="#111" stroke-width="1"/>
<line x1="369.0" y1="333.5" x2="369.0" y2="336.5" stroke="#111" stroke-width="1"/>
<line x1="381.0" y1="333.5" x2="381.0" y2="336.5" stroke="#111" stroke-width="1"/>
<line x1="393.0" y1="333.5" x2="393.0" y2="336.5" stroke="#111" stroke-width="1"/>
<line x1="405.0" y1="333.5" x2="405.0" y2="336.5" stroke="#111" stroke-width="1"/>
<line x1="417.0" y1="333.5" x2="417.0" y2="336.5" stroke="#111" stroke-width="1"/>
<line x1="429.0" y1="332.5" x2="429.0" y2="336.5" stroke="#111" stroke-width="1"/>
<line x1="441.0" y1="333.5" x2="441.0" y2="336.5" stroke="#111" stroke-width="1"/>
<line x1="453.0" y1="333.5" x2="453.0" y2="336.5" stroke="#111" stroke-width="1"/>
<line x1="465.0" y1="333.5" x2="465.0" y2="336.5" stroke="#111" stroke-width="1"/>
<line x1="477.0" y1="333.5" x2="477.0" y2="336.5" stroke="#111" stroke-width="1"/>
<line x1="489.0" y1="333.5" x2="489.0" y2="336.5" stroke="#111" stroke-width="1"/>
<line x1="501.0" y1="333.5" x2="501.0" y2="336.5" stroke="#111" stroke-width="1"/>
<line x1="513.0" y1="333.5" x2="513.0" y2="336.5" stroke="#111" stroke-width="1"/>
<line x1="525.0" y1="333.5" x2="525.0" y2="336.5" stroke="#111" stroke-width="1"/>
<line x1="537.0" y1="333.5" x2="537.0" y2="336.5" stroke="#111" stroke-width="1"/>
<line x1="549.0" y1="333.5" x2="549.0" y2="336.5" stroke="#111" stroke-width="1"/>
<line x1="561.0" y1="333.5" x2="561.0" y2="336.5" stroke="#111" stroke-width="1"/>
<line x1="573.0" y1="333.5" x2="573.0" y2="336.5" stroke="#111" stroke-width="1"/>
<line x1="585.0" y1="333.5" x2="585.0" y2="336.5" stroke="#111" stroke-width="1"/>
<line x1="597.0" y1="333.5" x2="597.0" y2="336.5" stroke="#111" stroke-width="1"/>
<line x1="609.0" y1="333.5" x2="609.0" y2="336.5" stroke="#111" stroke-width="1"/>
<line x1="621.0" y1="332.5" x2="621.0" y2="336.5" stroke="#111" stroke-width="1"/>
<line x1="633.0" y1="333.5" x2="633.0" y2="336.5" stroke="#111" stroke-width="1"/>
<line x1="645.0" y1="333.5" x2="645.0" y2="336.5" stroke="#111" stroke-width="1"/>
<line x1="657.0" y1="333.5" x2="657.0" y2="336.5" stroke="#111" stroke-width="1"/>
<line x1="669.0" y1="333.5" x2="669.0" y2="336.5" stroke="#111" stroke-width="1"/>
<line x1="681.0" y1="333.5" x2="681.0" y2="336.5" stroke="#111" stroke-width="1"/>
<line x1="693.0" y1="333.5" x2="693.0" y2="336.5" stroke="#111" stroke-width="1"/>
<line x1="705.0" y1="333.5" x2="705.0" y2="336.5" stroke="#111" stroke-width="1"/>
<line x1="717.0" y1="333.5" x2="717.0" y2="336.5" stroke="#111" stroke-width="1"/>
<line x1="729.0" y1="333.5" x2="729.0" y2="336.5" stroke="#111" stroke-width="1"/>
<line x1="741.0" y1="333.5" x2="741.0" y2="336.5" stroke="#111" stroke-width="1"/>
<line x1="753.0" y1="333.5" x2="753.0" y2="336.5" stroke="#111" stroke-width="1"/>
<line x1="765.0" y1="333.5" x2="765.0" y2="336.5" stroke="#111" stroke-width="1"/>
<line x1="777.0" y1="333.5" x2="777.0" y2="336.5" stroke="#111" stroke-width="1"/>
<line x1="789.0" y1="333.5" x2="789.0" y2="336.5" stroke="#111" stroke-width="1"/>
<line x1="801.0" y1="333.5" x2="801.0" y2="336.5" stroke="#111" stroke-width="1"/>
<line x1="813.0" y1="332.5" x2="813.0" y2="336.5" stroke="#111" stroke-width="1"/>
<line x1="825.0" y1="333.5" x2="825.0" y2="336.5" stroke="#111" stroke-width="1"/>
<line x1="837.0" y1="333.5" x2="837.0" y2="336.5" stroke="#111" stroke-width="1"/>
<line x1="849.0" y1="333.5" x2="849.0" y2="336.5" stroke="#111" stroke-width="1"/>
<line x1="861.0" y1="333.5" x2="861.0" y2="336.5" stroke="#111" stroke-width="1"/>
<line x1="873.0" y1="333.5" x2="873.0" y2="336.5" stroke="#111" stroke-width="1"/>
<line x1="885.0" y1="333.5" x2="885.0" y2="336.5" stroke="#111" stroke-width="1"/>
<line x1="897.0" y1="333.5" x2="897.0" y2="336.5" stroke="#111" stroke-width="1"/>
<line x1="909.0" y1="333.5" x2="909.0" y2="336.5" stroke="#111" stroke-width="1"/>
<line x1="921.0" y1="333.5" x2="921.0" y2="336.5" stroke="#111" stroke-width="1"/>
<line x1="933.0" y1="333.5" x2="933.0" y2="336.5" stroke="#111" stroke-width="1"/>
<line x1="945.0" y1="333.5" x2="945.0" y2="336.5" stroke="#111" stroke-width="1"/>
<line x1="957.0" y1="333.5" x2="957.0" y2="336.5" stroke="#111" stroke-width="1"/>
<line x1="969.0" y1="333.5" x2="969.0" y2="336.5" stroke="#111" stroke-width="1"/>
<line x1="981.0" y1="333.5" x2="981.0" y2="336.5" stroke="#111" stroke-width="1"/>
<line x1="993.0" y1="333.5" x2="993.0" y2="336.5" stroke="#111" stroke-width="1"/>
<line x1="1005.0" y1="332.5" x2="1005.0" y2="336.5" stroke="#111" stroke-width="1"/>
<line x1="42.0" y1="339.5" x2="44.5" y2="339.5" stroke="#111" stroke-width="1"/>
<line x1="1004.5" y1="339.5" x2="1007.0" y2="339.5" stroke="#111" stroke-width="1"/>
<line x1="42.0" y1="342.8" x2="44.5" y2="342.8" stroke="#111" stroke-width="1"/>
<line x1="1004.5" y1="342.8" x2="1007.0" y2="342.8" stroke="#111" stroke-width="1"/>
<line x1="42.0" y1="347.4" x2="44.5" y2="347.4" stroke="#111" stroke-width="1"/>
<line x1="1004.5" y1="347.4" x2="1007.0" y2="347.4" stroke="#111" stroke-width="1"/>
<line x1="42.0" y1="352.9" x2="44.5" y2="352.9" stroke="#111" stroke-width="1"/>
<line x1="1004.5" y1="352.9" x2="1007.0" y2="352.9" stroke="#111" stroke-width="1"/>
<line x1="42.0" y1="358.6" x2="44.5" y2="358.6" stroke="#111" stroke-width="1"/>
<line x1="1004.5" y1="358.6" x2="1007.0" y2="358.6" stroke="#111" stroke-width="1"/>
<line x1="42.0" y1="364.6" x2="44.5" y2="364.6" stroke="#111" stroke-width="1"/>
<line x1="1004.5" y1="364.6" x2="1007.0" y2="364.6" stroke="#111" stroke-width="1"/>
<line x1="42.0" y1="370.7" x2="44.5" y2="370.7" stroke="#111" stroke-width="1"/>
<line x1="1004.5" y1="370.7" x2="1007.0" y2="370.7" stroke="#111" stroke-width="1"/>
<line x1="42.0" y1="378.3" x2="44.5" y2="378.3" stroke="#111" stroke-width="1"/>
<line x1="1004.5" y1="378.3" x2="1007.0" y2="378.3" stroke="#111" stroke-width="1"/>
<line x1="42.0" y1="386.5" x2="44.5" y2="386.5" stroke="#111" stroke-width="1"/>
<line x1="1004.5" y1="386.5" x2="1007.0" y2="386.5" stroke="#111" stroke-width="1"/>
<line x1="42.0" y1="394.7" x2="44.5" y2="394.7" stroke="#111" stroke-width="1"/>
<line x1="1004.5" y1="394.7" x2="1007.0" y2="394.7" stroke="#111" stroke-width="1"/>
<line x1="42.0" y1="404.3" x2="44.5" y2="404.3" stroke="#111" stroke-width="1"/>
<line x1="1004.5" y1="404.3" x2="1007.0" y2="404.3" stroke="#111" stroke-width="1"/>
<line x1="42.0" y1="415.2" x2="44.5" y2="415.2" stroke="#111" stroke-width="1"/>
<line x1="1004.5" y1="415.2" x2="1007.0" y2="415.2" stroke="#111" stroke-width="1"/>
<line x1="42.0" y1="427" x2="44.5" y2="427" stroke="#111" stroke-width="1"/>
<line x1="1004.5" y1="427" x2="1007.0" y2="427" stroke="#111" stroke-width="1"/>
<line x1="42.0" y1="440.6" x2="44.5" y2="440.6" stroke="#111" stroke-width="1"/>
<line x1="1004.5" y1="440.6" x2="1007.0" y2="440.6" stroke="#111" stroke-width="1"/>
<rect x="18.50" y="457" width="22" height="11" fill="#000078" stroke="#202020" stroke-width="1"/>
<rect x="46.25" y="457" width="22" height="11" fill="#0a0a9c" stroke="#202020" stroke-width="1"/>
<rect x="74.00" y="457" width="22" height="11" fill="#0808c4" stroke="#202020" stroke-width="1"/>
<rect x="101.75" y="457" width="22" height="11" fill="#0606ec" stroke="#202020" stroke-width="1"/>
<rect x="129.50" y="457" width="22" height="11" fill="#1478ec" stroke="#202020" stroke-width="1"/>
<rect x="157.25" y="457" width="22" height="11" fill="#10f8f6" stroke="#202020" stroke-width="1"/>
<rect x="185.00" y="457" width="22" height="11" fill="#14bc82" stroke="#202020" stroke-width="1"/>
<rect x="212.75" y="457" width="22" height="11" fill="#12f612" stroke="#202020" stroke-width="1"/>
<rect x="240.50" y="457" width="22" height="11" fill="#0a7a0a" stroke="#202020" stroke-width="1"/>
<rect x="268.25" y="457" width="22" height="11" fill="#8cc41c" stroke="#202020" stroke-width="1"/>
<rect x="296.00" y="457" width="22" height="11" fill="#ffff14" stroke="#202020" stroke-width="1"/>
<rect x="323.75" y="457" width="22" height="11" fill="#b87a10" stroke="#202020" stroke-width="1"/>
<rect x="351.50" y="457" width="22" height="11" fill="#ff8414" stroke="#202020" stroke-width="1"/>
<rect x="379.25" y="457" width="22" height="11" fill="#f01010" stroke="#202020" stroke-width="1"/>
<rect x="407.00" y="457" width="22" height="11" fill="#c40c0c" stroke="#202020" stroke-width="1"/>
<rect x="434.75" y="457" width="22" height="11" fill="#8a0c3c" stroke="#202020" stroke-width="1"/>
<rect x="462.50" y="457" width="22" height="11" fill="#600a68" stroke="#202020" stroke-width="1"/>
</g>
<text x="388.5" y="9.50">C:\Users\user\OneDrive\Desktop\COALMI~1\LRMAF-01.S4K</text>
<text x="1" y="22.50">Ps.Z</text>
<text x="36" y="28.50">50.0</text>
<text x="225" y="28.50">90.0</text>
<text x="414.5" y="28.50">130.0</text>
<text x="606.5" y="28.50">170.0</text>
<text x="798.5" y="28.50">210.0</text>
<text x="1008.5" y="27.00">m.</text>
<text x="15" y="45.00">2.56</text>
<text x="15" y="60.50">7.68</text>
<text x="15" y="84.50">15.4</text>
<text x="15" y="100.50">20.5</text>
<text x="15" y="116.50">25.6</text>
<text x="15" y="132.50">30.7</text>
<text x="48.5" y="144.70">Measured Apparent Resistivity Pseudosection</text>
<text x="1" y="165.50">Ps.Z</text>
<text x="36" y="171.50">50.0</text>
<text x="225" y="171.50">90.0</text>
<text x="414.5" y="171.50">130.0</text>
<text x="606.5" y="171.50">170.0</text>
<text x="798.5" y="171.50">210.0</text>
<text x="1008.5" y="170.00">m.</text>
<text x="15" y="188.00">2.56</text>
<text x="15" y="203.50">7.68</text>
<text x="15" y="227.50">15.4</text>
<text x="15" y="243.50">20.5</text>
<text x="15" y="259.50">25.6</text>
<text x="15" y="275.50">30.7</text>
<text x="48.5" y="287.70">Calculated Apparent Resistivity Pseudosection</text>
<text x="1" y="319.50">Depth</text>
<text x="45.5" y="319.50">Iteration 3 Abs. error = 1.89 %</text>
<text x="36.5" y="328.50">50.0</text>
<text x="225" y="328.50">90.0</text>
<text x="414.5" y="328.50">130.0</text>
<text x="606.5" y="328.50">170.0</text>
<text x="798.5" y="328.50">210.0</text>
<text x="1008.5" y="327.50">m.</text>
<text x="9.0" y="339.20">0.625</text>
<text x="15.0" y="352.70">4.97</text>
<text x="15.0" y="371.20">10.8</text>
<text x="15.0" y="387.20">15.6</text>
<text x="15.0" y="404.70">21.5</text>
<text x="15.0" y="427.20">28.7</text>
<text x="15.0" y="440.20">32.8</text>
<text x="48.5" y="453.00">Inverse Model Resistivity Section</text>
<text x="34.5" y="478.00">62.3</text>
<text x="90.0" y="478.00">90.6</text>
<text x="148.5" y="478.00">132</text>
<text x="204.0" y="478.00">191</text>
<text x="259.5" y="478.00">278</text>
<text x="315.0" y="478.00">404</text>
<text x="370.5" y="478.00">587</text>
<text x="426.0" y="478.00">852</text>
<text x="193.5" y="489.00">Resistivity in ohm.m</text>
<text x="513.5" y="488.80">Unit electrode spacing 2.50 m.</text>
</svg>
</body></html>
